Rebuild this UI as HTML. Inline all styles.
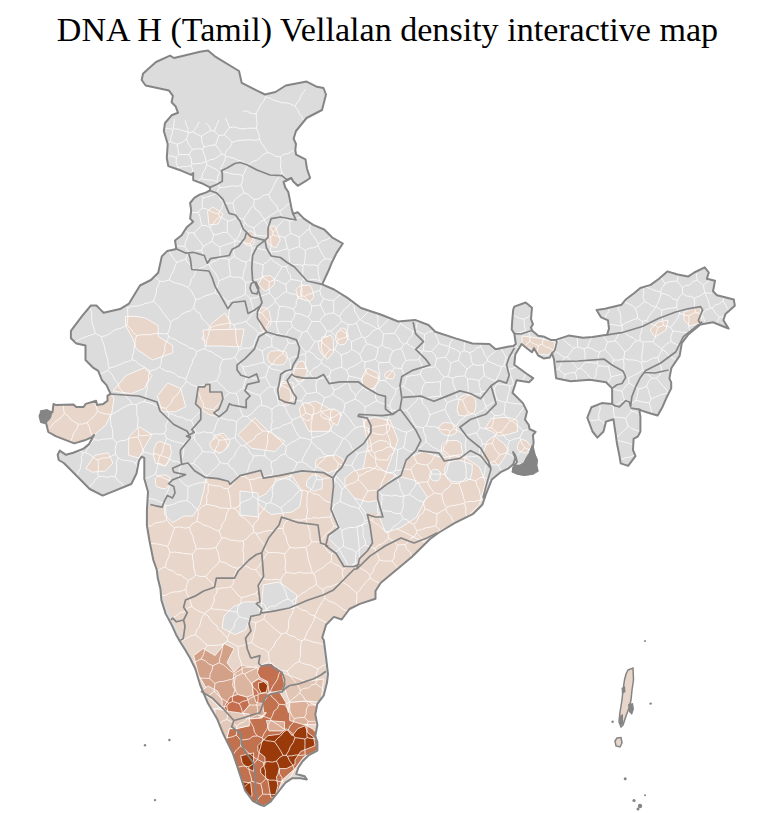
<!DOCTYPE html>
<html><head><meta charset="utf-8"><style>
html,body{margin:0;padding:0;background:#fff;width:770px;height:813px;overflow:hidden}
.t{position:absolute;left:2.5px;top:11px;width:770px;text-align:center;font-family:"Liberation Serif",serif;font-size:34.1px;color:#000;white-space:nowrap}
svg{position:absolute;left:0;top:0}
</style></head><body>
<svg width="770" height="813" viewBox="0 0 770 813">
<defs><clipPath id="ind"><path d="M208,50.4 L215.7,56.9 L239,71 L241.7,82.9 L257,90.6 L265,94.5 L275.5,92 L285.8,85.5 L298.8,82.9 L306.6,81.6 L317,86.8 L323.5,88 L326,94.5 L322,110 L306.6,118 L296,131 L293.6,138.7 L296,144 L295.3,150 L296.1,154.7 L305.5,159.4 L307,168.7 L310.1,178 L305.5,181.2 L297.7,185.8 L293,181.2 L291.4,178 L283.6,182 L285.2,187.4 L288.3,192 L289.9,199.9 L291.4,207.7 L293,213.9 L297.7,212.3 L303.9,218.6 L313.2,224.8 L324.2,229.5 L332,237.3 L342.8,243.5 L336.6,252.9 L332,262.2 L328.8,270 L322.2,284.4 L334,289.5 L347.5,297.9 L361,308 L381.3,314.8 L398.2,321.5 L415,319.9 L428.5,325 L435.3,331.7 L455.6,338.4 L472.4,343.5 L489.4,344 L495.6,349.2 L509,346.6 L513.2,346.1 L515.8,344 L514.3,333.6 L511.7,329.5 L512.2,321.2 L513.2,309.7 L514.3,306.6 L525.7,302.5 L532,307.7 L531,319 L533,324.3 L531,327.4 L532,330.5 L538.2,335.7 L544.4,336.8 L550.6,339.9 L555.8,339.9 L568.6,335.6 L583.1,337.7 L592.5,336.9 L607,334.8 L609,328.6 L608,320.3 L600.8,317.1 L596.6,309.9 L605,308.8 L621.6,304.7 L625.7,299.5 L634,293.2 L640.3,288 L650.6,284.9 L659,278.7 L667.3,271.4 L677.7,274.5 L688,276.6 L694.3,272.5 L704.7,267.3 L708.8,272.5 L706.8,278.7 L715,280.8 L713,291.2 L717,295.3 L733.8,299.5 L734.8,305.7 L725.5,314 L723.4,320.3 L728.6,328.6 L723.4,326.5 L713,322.3 L700.5,324.4 L688,334.8 L681.8,343.1 L679.7,355.6 L671.4,368 L669.4,378.4 L671.2,382.3 L671.2,388.4 L666.2,398.3 L662.5,406.9 L657.6,415.5 L649,413 L641.6,410.6 L639.2,409.3 L640.4,416.7 L640.4,431.5 L638,436.4 L633.6,438.9 L633,450 L635.5,456.1 L628.1,465.9 L620.7,463.4 L619.5,456.1 L617,443.8 L615.8,435.2 L613.4,419.2 L606,421.6 L603.5,431.5 L597.4,437.6 L592.5,431.5 L587.3,417.7 L591.4,407.3 L601.8,403.1 L612.2,404 L612.1,388.4 L606,382.3 L590,379.8 L570.6,381.3 L556.1,378.2 L554,359.5 L552,353.2 L549.9,357.4 L543.6,358.4 L538.2,355.5 L534,348.2 L532,352.3 L526.8,348.2 L521.6,344 L515.3,354.4 L514.3,364.8 L527,374 L533.2,378.2 L529,382.3 L516.6,380.3 L512.5,392.7 L522.9,403.1 L527,411.4 L525,419.7 L528.8,425 L529.5,429 L535.6,431.8 L532.9,435.1 L533.6,442 L532.9,447.3 L534.9,455.4 L537,460.2 L536.3,465.6 L537.6,471 L532.9,473.7 L524.1,475 L517.3,473.7 L512.6,471.7 L513.3,467.6 L517,462 L515.5,456 L513,452 L515.3,458 L513.3,464.2 L508.5,468.3 L501.2,471.8 L491.8,479.6 L485.6,495.2 L482.5,504.5 L473.2,513.8 L454.5,523.2 L439,532.5 L430,539 L411.8,557 L396.2,570 L380.6,583 L375.5,591 L375.5,598.7 L359.9,603.9 L349.5,609 L341.7,619.5 L333.9,616.9 L326.1,624.7 L322.2,637.7 L323.8,640 L326,657 L328,674 L327,682.6 L323.8,695.3 L317.4,703.8 L315.3,714.5 L317.4,725 L315.3,735.7 L317.4,742 L317.4,750.6 L309,755 L302.6,761.3 L298.3,767.7 L296.2,774 L304.7,776.2 L306.8,779.4 L300.4,778.3 L291.9,778.3 L285.5,782.6 L279,791 L270.6,801.7 L264.3,806 L260.7,805 L253,801.2 L245,790.3 L239,771.6 L232.7,753 L223.4,734.3 L217,718.7 L207.8,703 L200,684.5 L195.4,669 L190,658 L185.3,650 L180.1,641.7 L176,634.4 L171.8,625.1 L165.6,613.6 L161.4,600.1 L160.4,588.7 L157.8,578.3 L156.8,570 L153.3,560 L149.5,541 L146.9,525.5 L146.9,510 L148,491.7 L144.3,478.7 L144.3,458 L141.7,456.6 L139,460.5 L136.5,473.5 L131.3,484 L115.7,490.4 L102.7,495.6 L89.7,489 L76.8,476 L63.8,463 L58.7,460 L57.7,454.8 L59.7,450.6 L66,454.8 L73.2,452.7 L83.6,448.6 L88.8,444.4 L94,435 L92,437.1 L84.7,440.3 L74.3,443.4 L55.6,436.1 L48.3,432 L46.2,423.6 L41,422 L39.5,416 L42,411 L46.2,411.2 L52.5,412.2 L53.5,403.9 L55.6,404.9 L73.2,404.4 L76.4,407 L83.6,407 L85.7,403.9 L96.1,400.8 L97.1,404.9 L103.4,403.9 L107.5,400.8 L107.5,395.6 L110.6,394 L106.5,385.2 L101.8,380 L98.2,370.9 L92.7,367.3 L85.5,360 L85.5,345.5 L76.4,343.6 L70.9,338.2 L70.9,330.9 L81.8,316.4 L90.9,305.5 L96.4,305.5 L100,309.1 L103.6,312.7 L120,309.1 L129,303.6 L134.5,294.5 L140,285.5 L150.9,280 L158.2,272.7 L161.8,256.4 L167.3,250.9 L176.4,249.1 L175,240.5 L181.6,235.3 L187,226.9 L193.2,221.7 L190.1,218.6 L191.2,210.3 L190.1,203 L194.3,197.8 L199.5,194.7 L205.7,192.6 L209.9,190.5 L209.9,187.4 L201.6,183.2 L193.2,180.1 L193.2,172.9 L191.2,174.9 L178.7,169.7 L168.3,166.1 L166.8,158.3 L167.7,144 L163.8,131 L165,123 L171.6,115.3 L178,112.7 L175.5,106.2 L171.6,102.3 L172.9,95.8 L169,90.6 L145.6,85.5 L141.7,80 L143,73.8 L147,70 L156,62 L170,55.6 L174,58 L189.7,54.3 L200,51.7Z"/></clipPath></defs>
<path d="M208,50.4 L215.7,56.9 L239,71 L241.7,82.9 L257,90.6 L265,94.5 L275.5,92 L285.8,85.5 L298.8,82.9 L306.6,81.6 L317,86.8 L323.5,88 L326,94.5 L322,110 L306.6,118 L296,131 L293.6,138.7 L296,144 L295.3,150 L296.1,154.7 L305.5,159.4 L307,168.7 L310.1,178 L305.5,181.2 L297.7,185.8 L293,181.2 L291.4,178 L283.6,182 L285.2,187.4 L288.3,192 L289.9,199.9 L291.4,207.7 L293,213.9 L297.7,212.3 L303.9,218.6 L313.2,224.8 L324.2,229.5 L332,237.3 L342.8,243.5 L336.6,252.9 L332,262.2 L328.8,270 L322.2,284.4 L334,289.5 L347.5,297.9 L361,308 L381.3,314.8 L398.2,321.5 L415,319.9 L428.5,325 L435.3,331.7 L455.6,338.4 L472.4,343.5 L489.4,344 L495.6,349.2 L509,346.6 L513.2,346.1 L515.8,344 L514.3,333.6 L511.7,329.5 L512.2,321.2 L513.2,309.7 L514.3,306.6 L525.7,302.5 L532,307.7 L531,319 L533,324.3 L531,327.4 L532,330.5 L538.2,335.7 L544.4,336.8 L550.6,339.9 L555.8,339.9 L568.6,335.6 L583.1,337.7 L592.5,336.9 L607,334.8 L609,328.6 L608,320.3 L600.8,317.1 L596.6,309.9 L605,308.8 L621.6,304.7 L625.7,299.5 L634,293.2 L640.3,288 L650.6,284.9 L659,278.7 L667.3,271.4 L677.7,274.5 L688,276.6 L694.3,272.5 L704.7,267.3 L708.8,272.5 L706.8,278.7 L715,280.8 L713,291.2 L717,295.3 L733.8,299.5 L734.8,305.7 L725.5,314 L723.4,320.3 L728.6,328.6 L723.4,326.5 L713,322.3 L700.5,324.4 L688,334.8 L681.8,343.1 L679.7,355.6 L671.4,368 L669.4,378.4 L671.2,382.3 L671.2,388.4 L666.2,398.3 L662.5,406.9 L657.6,415.5 L649,413 L641.6,410.6 L639.2,409.3 L640.4,416.7 L640.4,431.5 L638,436.4 L633.6,438.9 L633,450 L635.5,456.1 L628.1,465.9 L620.7,463.4 L619.5,456.1 L617,443.8 L615.8,435.2 L613.4,419.2 L606,421.6 L603.5,431.5 L597.4,437.6 L592.5,431.5 L587.3,417.7 L591.4,407.3 L601.8,403.1 L612.2,404 L612.1,388.4 L606,382.3 L590,379.8 L570.6,381.3 L556.1,378.2 L554,359.5 L552,353.2 L549.9,357.4 L543.6,358.4 L538.2,355.5 L534,348.2 L532,352.3 L526.8,348.2 L521.6,344 L515.3,354.4 L514.3,364.8 L527,374 L533.2,378.2 L529,382.3 L516.6,380.3 L512.5,392.7 L522.9,403.1 L527,411.4 L525,419.7 L528.8,425 L529.5,429 L535.6,431.8 L532.9,435.1 L533.6,442 L532.9,447.3 L534.9,455.4 L537,460.2 L536.3,465.6 L537.6,471 L532.9,473.7 L524.1,475 L517.3,473.7 L512.6,471.7 L513.3,467.6 L517,462 L515.5,456 L513,452 L515.3,458 L513.3,464.2 L508.5,468.3 L501.2,471.8 L491.8,479.6 L485.6,495.2 L482.5,504.5 L473.2,513.8 L454.5,523.2 L439,532.5 L430,539 L411.8,557 L396.2,570 L380.6,583 L375.5,591 L375.5,598.7 L359.9,603.9 L349.5,609 L341.7,619.5 L333.9,616.9 L326.1,624.7 L322.2,637.7 L323.8,640 L326,657 L328,674 L327,682.6 L323.8,695.3 L317.4,703.8 L315.3,714.5 L317.4,725 L315.3,735.7 L317.4,742 L317.4,750.6 L309,755 L302.6,761.3 L298.3,767.7 L296.2,774 L304.7,776.2 L306.8,779.4 L300.4,778.3 L291.9,778.3 L285.5,782.6 L279,791 L270.6,801.7 L264.3,806 L260.7,805 L253,801.2 L245,790.3 L239,771.6 L232.7,753 L223.4,734.3 L217,718.7 L207.8,703 L200,684.5 L195.4,669 L190,658 L185.3,650 L180.1,641.7 L176,634.4 L171.8,625.1 L165.6,613.6 L161.4,600.1 L160.4,588.7 L157.8,578.3 L156.8,570 L153.3,560 L149.5,541 L146.9,525.5 L146.9,510 L148,491.7 L144.3,478.7 L144.3,458 L141.7,456.6 L139,460.5 L136.5,473.5 L131.3,484 L115.7,490.4 L102.7,495.6 L89.7,489 L76.8,476 L63.8,463 L58.7,460 L57.7,454.8 L59.7,450.6 L66,454.8 L73.2,452.7 L83.6,448.6 L88.8,444.4 L94,435 L92,437.1 L84.7,440.3 L74.3,443.4 L55.6,436.1 L48.3,432 L46.2,423.6 L41,422 L39.5,416 L42,411 L46.2,411.2 L52.5,412.2 L53.5,403.9 L55.6,404.9 L73.2,404.4 L76.4,407 L83.6,407 L85.7,403.9 L96.1,400.8 L97.1,404.9 L103.4,403.9 L107.5,400.8 L107.5,395.6 L110.6,394 L106.5,385.2 L101.8,380 L98.2,370.9 L92.7,367.3 L85.5,360 L85.5,345.5 L76.4,343.6 L70.9,338.2 L70.9,330.9 L81.8,316.4 L90.9,305.5 L96.4,305.5 L100,309.1 L103.6,312.7 L120,309.1 L129,303.6 L134.5,294.5 L140,285.5 L150.9,280 L158.2,272.7 L161.8,256.4 L167.3,250.9 L176.4,249.1 L175,240.5 L181.6,235.3 L187,226.9 L193.2,221.7 L190.1,218.6 L191.2,210.3 L190.1,203 L194.3,197.8 L199.5,194.7 L205.7,192.6 L209.9,190.5 L209.9,187.4 L201.6,183.2 L193.2,180.1 L193.2,172.9 L191.2,174.9 L178.7,169.7 L168.3,166.1 L166.8,158.3 L167.7,144 L163.8,131 L165,123 L171.6,115.3 L178,112.7 L175.5,106.2 L171.6,102.3 L172.9,95.8 L169,90.6 L145.6,85.5 L141.7,80 L143,73.8 L147,70 L156,62 L170,55.6 L174,58 L189.7,54.3 L200,51.7Z" fill="#dcdcdc"/>
<g clip-path="url(#ind)"><path d="M150.4,504.5 L155.6,505.8 L162.1,507.1 L164.7,500.6 L167.3,495.5 L172.5,498 L175,492.9 L173.8,486.4 L168.6,483.8 L172.5,479.9 L185.5,474.7 L179,473.4 L173.8,472.1 L172.5,468.2 L181.6,464.3 L188,463 L194.5,470.8 L205,477.3 L218,478.6 L228.3,481.2 L230,484.3 L244.3,474.3 L255.7,470 L264.3,477 L278.6,474.3 L295.7,474.3 L312.9,471.4 L330,474.3 L335.7,482.9 L332.9,494.3 L333.9,500 L331.3,515.6 L339,526 L328.7,541.6 L333.9,552 L344.3,565 L354.7,567.5 L359.9,557 L372.9,541.6 L370.3,526 L367.7,513 L380.6,513 L392,505 L402,510 L420,505 L440,500 L455,505 L470,505 L480,500 L485.6,495.2 L482.5,504.5 L473.2,513.8 L454.5,523.2 L439,532.5 L430,539 L411.8,557 L396.2,570 L380.6,583 L375.5,591 L375.5,598.7 L359.9,603.9 L349.5,609 L341.7,619.5 L333.9,616.9 L326.1,624.7 L322.2,637.7 L323.5,655.8 L326.1,671.4 L327.4,687 L323,697 L316.7,709.4 L315.2,728 L318.3,734.3 L316.7,749.9 L310.5,759 L301.2,771.6 L295,774.7 L285.6,781 L276.3,790.3 L268.5,799.6 L260.7,804.3 L253,801.2 L245,790.3 L239,771.6 L232.7,753 L223.4,734.3 L217,718.7 L207.8,703 L200,684.5 L195.4,669 L189,653.4 L179.8,634.7 L172,619 L164.2,600.5 L159.6,575.6 L153.3,560 L149.5,541 L146.9,525.5 L146.9,510Z" fill="#e8d6cb"/><path d="M53.5,403.9 L55.6,404.9 L73.2,404.4 L76.4,407 L83.6,407 L85.7,403.9 L96.1,400.8 L97.1,404.9 L103.4,403.9 L107.5,400.8 L107.5,395.6 L110.6,394 L114,398 L112,412 L106,425 L94,435 L92,437.1 L84.7,440.3 L74.3,443.4 L55.6,436.1 L48.3,432 L46.2,423.6 L41,422 L39.5,416 L42,411 L46.2,411.2 L52.5,412.2Z" fill="#e8d6cb" stroke="#fff" stroke-width="0.9" stroke-opacity="0.85"/><path d="M125.5,316.4 L136.4,316.4 L145.5,318.2 L158.2,325.5 L158.2,336.4 L172.7,345.5 L172.7,352.7 L152.7,360 L147.3,356.4 L136.4,349.1 L132.7,338.2 L125.5,325.5Z" fill="#e8d6cb" stroke="#fff" stroke-width="0.9" stroke-opacity="0.85"/><path d="M113,391 L126,375.5 L144.3,367.7 L152,375.5 L144.3,388.4 L131.3,393.6Z" fill="#e8d6cb" stroke="#fff" stroke-width="0.9" stroke-opacity="0.85"/><path d="M201.4,339 L211.8,323.5 L224.8,313 L230,321 L230,344.3 L211.8,344.3Z" fill="#e8d6cb" stroke="#fff" stroke-width="0.9" stroke-opacity="0.85"/><path d="M157.3,396 L167.7,383 L180.6,388.4 L185.8,406.6 L175.5,411.8 L162.5,411.8Z" fill="#e8d6cb" stroke="#fff" stroke-width="0.9" stroke-opacity="0.85"/><path d="M198.2,386.9 L204.7,386.9 L206,384.3 L209.9,384.3 L209.9,392 L221.6,392 L222.9,398.6 L219,409 L213.8,412.9 L219,416.8 L210,415 L200.8,409 L195.6,403.8 L196.9,396Z" fill="#e8d6cb" stroke="#fff" stroke-width="0.9" stroke-opacity="0.85"/><path d="M85.8,468.3 L95,455.3 L108,452.7 L113,463 L105.3,471 L92.3,472.2Z" fill="#e8d6cb" stroke="#fff" stroke-width="0.9" stroke-opacity="0.85"/><path d="M128.7,437 L139,426.8 L152,434.5 L144.3,447.5 L139,458 L128.7,455.3Z" fill="#e8d6cb" stroke="#fff" stroke-width="0.9" stroke-opacity="0.85"/><path d="M170.5,455.2 L168.8,461.3 L165.6,466.2 L161.4,465.3 L157.8,463.5 L154.8,458.9 L154.3,454.0 L156.7,448.2 L161.4,446.4 L165.6,447.8 L169.7,451.3Z" fill="#e8d6cb" stroke="#fff" stroke-width="0.9" stroke-opacity="0.85"/><path d="M169.2,481.7 L168.8,485.3 L165.5,488.9 L161.2,488.2 L156.7,486.7 L155.4,483.6 L155.3,478.6 L157.2,476.5 L162.3,474.9 L165.9,475.1 L170.4,477.8Z" fill="#e8d6cb" stroke="#fff" stroke-width="0.9" stroke-opacity="0.85"/><path d="M230.0,441.7 L227.7,447.3 L224.7,449.9 L218.8,453.4 L216.0,449.0 L213.5,445.7 L212.7,440.4 L214.3,435.5 L219.7,433.7 L223.8,433.4 L227.9,438.5Z" fill="#e8d6cb" stroke="#fff" stroke-width="0.9" stroke-opacity="0.85"/><path d="M287.5,357.1 L286.6,360.5 L283.6,364.4 L277.1,365.2 L270.2,363.1 L267.9,359.5 L267.8,354.1 L271.4,351.1 L276.7,350.7 L283.0,351.0 L286.3,352.3Z" fill="#e8d6cb" stroke="#fff" stroke-width="0.9" stroke-opacity="0.85"/><path d="M281,381 L293,383 L295.3,402 L286,404 L279,395Z" fill="#e8d6cb" stroke="#fff" stroke-width="0.9" stroke-opacity="0.85"/><path d="M304.9,369.7 L303.9,374.6 L301.9,377.2 L299.7,377.8 L297.4,374.4 L295.5,372.2 L296.4,367.8 L297.4,366.1 L299.5,363.5 L302.4,365.3 L304.1,366.6Z" fill="#e8d6cb" stroke="#fff" stroke-width="0.9" stroke-opacity="0.85"/><path d="M302,404.3 L315.6,401 L339.2,414.4 L329,431.3 L308.8,431.3 L302,417.8Z" fill="#e8d6cb" stroke="#fff" stroke-width="0.9" stroke-opacity="0.85"/><path d="M238,434.7 L254.8,417.8 L268.3,431.3 L285.2,441.4 L275,451.5 L251.4,448.2Z" fill="#e8d6cb" stroke="#fff" stroke-width="0.9" stroke-opacity="0.85"/><path d="M227.5,444.5 L226.7,447.7 L222.4,451.8 L219.2,452.7 L212.5,449.9 L209.9,445.1 L210.4,442.0 L214.3,438.8 L218.8,435.0 L221.8,436.1 L225.4,439.5Z" fill="#e8d6cb" stroke="#fff" stroke-width="0.9" stroke-opacity="0.85"/><path d="M344.2,464.1 L339.6,468.8 L334.5,470.3 L328.3,473.0 L321.4,468.9 L315.2,466.1 L316.0,460.0 L319.3,457.8 L328.9,455.9 L336.1,454.8 L343.1,459.3Z" fill="#e8d6cb" stroke="#fff" stroke-width="0.9" stroke-opacity="0.85"/><path d="M362.8,417.8 L390,420 L398,440 L385,475 L362.8,470 L368,445Z" fill="#e8d6cb" stroke="#fff" stroke-width="0.9" stroke-opacity="0.85"/><path d="M171.4,453.4 L168.6,460.7 L164.7,466.1 L160.3,463.5 L155.7,463.4 L153.7,456.4 L153.8,449.4 L156.5,443.1 L160.0,441.3 L166.2,443.8 L170.2,445.0Z" fill="#e8d6cb" stroke="#fff" stroke-width="0.9" stroke-opacity="0.85"/><path d="M207.5,211 L213,207 L223,214 L218,224 L209,225Z" fill="#e8d6cb" stroke="#fff" stroke-width="0.9" stroke-opacity="0.85"/><path d="M254.4,237.5 L254.1,243.1 L250.8,246.0 L248.0,245.3 L245.5,244.6 L243.7,241.0 L244.4,235.9 L246.4,233.2 L249.0,230.7 L251.0,230.9 L253.8,233.2Z" fill="#e8d6cb" stroke="#fff" stroke-width="0.9" stroke-opacity="0.85"/><path d="M267.3,226 L275,226 L280.3,240 L276,248 L268,244Z" fill="#e8d6cb" stroke="#fff" stroke-width="0.9" stroke-opacity="0.85"/><path d="M274.6,283.1 L273.2,285.6 L269.6,288.7 L264.9,291.2 L261.4,287.4 L258.3,284.5 L260.4,280.6 L262.1,276.1 L266.5,276.0 L270.3,275.6 L274.0,278.6Z" fill="#e8d6cb" stroke="#fff" stroke-width="0.9" stroke-opacity="0.85"/><path d="M310.3,292.3 L311.0,296.4 L306.2,300.5 L302.0,298.9 L298.1,298.1 L297.4,294.8 L295.8,289.7 L298.3,287.2 L302.2,284.8 L305.9,285.6 L310.2,287.0Z" fill="#e8d6cb" stroke="#fff" stroke-width="0.9" stroke-opacity="0.85"/><path d="M203,330 L244,329 L241,347 L222,346 L205,346Z" fill="#e8d6cb" stroke="#fff" stroke-width="0.9" stroke-opacity="0.85"/><path d="M271.1,319.6 L270.3,325.2 L267.3,328.7 L263.9,333.3 L260.7,327.4 L259.5,322.7 L258.8,314.3 L260.7,308.1 L263.5,307.7 L266.4,308.0 L268.9,310.4Z" fill="#e8d6cb" stroke="#fff" stroke-width="0.9" stroke-opacity="0.85"/><path d="M332.1,346.7 L330.4,353.1 L329.2,357.1 L324.2,356.6 L321.5,354.0 L319.0,348.9 L318.3,342.1 L321.7,339.8 L324.7,335.9 L329.4,336.9 L331.6,341.5Z" fill="#e8d6cb" stroke="#fff" stroke-width="0.9" stroke-opacity="0.85"/><path d="M313.3,293.6 L313.9,297.5 L310.2,301.2 L306.1,300.3 L302.2,299.1 L301.2,295.9 L300.4,291.7 L302.1,285.6 L306.1,285.2 L309.9,284.9 L312.1,289.3Z" fill="#e8d6cb" stroke="#fff" stroke-width="0.9" stroke-opacity="0.85"/><path d="M348.2,335.1 L347.9,338.5 L344.6,342.1 L341.7,341.4 L338.8,340.7 L337.4,337.4 L337.0,333.1 L338.6,330.9 L341.5,327.9 L344.8,328.5 L347.0,332.5Z" fill="#e8d6cb" stroke="#fff" stroke-width="0.9" stroke-opacity="0.85"/><path d="M333.5,345.8 L333.6,352.0 L330.0,356.4 L327.2,359.5 L323.4,354.5 L321.2,348.4 L321.5,342.9 L322.1,336.9 L326.3,337.3 L330.6,334.9 L333.1,338.7Z" fill="#e8d6cb" stroke="#fff" stroke-width="0.9" stroke-opacity="0.85"/><path d="M378.7,380.3 L375.8,385.1 L372.8,389.3 L367.2,390.5 L363.0,386.9 L361.9,381.8 L362.6,375.8 L364.1,373.1 L367.6,368.0 L372.6,370.4 L377.7,372.9Z" fill="#e8d6cb" stroke="#fff" stroke-width="0.9" stroke-opacity="0.85"/><path d="M395.0,375.2 L394.1,376.8 L392.8,378.8 L389.5,378.8 L386.2,378.1 L384.8,376.7 L385.1,373.0 L387.0,371.9 L389.7,370.4 L392.3,370.9 L393.6,372.2Z" fill="#e8d6cb" stroke="#fff" stroke-width="0.9" stroke-opacity="0.85"/><path d="M307.5,371.0 L305.8,375.8 L303.5,379.6 L299.2,381.6 L295.1,379.0 L293.2,374.3 L294.3,370.6 L296.4,365.0 L299.4,361.5 L303.2,361.1 L306.3,366.3Z" fill="#e8d6cb" stroke="#fff" stroke-width="0.9" stroke-opacity="0.85"/><path d="M292.7,393.2 L292.5,400.1 L289.1,404.5 L285.7,406.1 L282.2,403.7 L279.6,397.0 L278.8,390.9 L281.7,383.8 L286.4,383.2 L289.0,383.0 L291.8,388.6Z" fill="#e8d6cb" stroke="#fff" stroke-width="0.9" stroke-opacity="0.85"/><path d="M313.8,410.9 L312.5,416.7 L310.9,419.7 L306.6,420.8 L301.4,417.1 L300.4,414.9 L299.5,408.9 L302.3,404.1 L304.9,402.8 L309.8,404.1 L313.6,406.9Z" fill="#e8d6cb" stroke="#fff" stroke-width="0.9" stroke-opacity="0.85"/><path d="M342.1,415.2 L339.3,416.7 L334.9,419.5 L330.2,420.1 L322.9,417.8 L320.4,415.3 L321.5,413.7 L322.9,411.0 L327.9,409.9 L334.0,408.8 L337.4,411.5Z" fill="#e8d6cb" stroke="#fff" stroke-width="0.9" stroke-opacity="0.85"/><path d="M476.2,405.7 L474.3,412.9 L470.8,414.4 L465.4,416.1 L458.9,415.4 L457.0,409.8 L458.8,401.0 L460.5,397.0 L465.2,394.6 L470.1,393.0 L475.2,399.2Z" fill="#e8d6cb" stroke="#fff" stroke-width="0.9" stroke-opacity="0.85"/><path d="M457.1,427.9 L456.1,432.9 L451.6,435.3 L446.7,435.5 L442.2,433.4 L439.3,430.6 L438.4,427.0 L443.2,422.9 L446.4,422.6 L451.8,423.2 L455.1,425.3Z" fill="#e8d6cb" stroke="#fff" stroke-width="0.9" stroke-opacity="0.85"/><path d="M461.7,449.6 L462.7,454.0 L454.9,457.5 L449.0,459.8 L445.2,454.8 L441.1,452.5 L441.7,445.5 L446.1,441.2 L451.1,440.5 L457.0,440.5 L460.9,442.9Z" fill="#e8d6cb" stroke="#fff" stroke-width="0.9" stroke-opacity="0.85"/><path d="M517.2,425.3 L517.7,431.5 L508.6,434.3 L499.0,436.1 L491.4,431.2 L485.0,428.8 L487.8,424.0 L491.0,418.8 L500.6,417.5 L508.5,417.4 L517.2,420.4Z" fill="#e8d6cb" stroke="#fff" stroke-width="0.9" stroke-opacity="0.85"/><path d="M508.6,450.2 L504.5,457.3 L499.3,465.0 L493.5,464.9 L488.6,462.8 L481.6,456.8 L484.2,450.1 L487.5,440.9 L494.8,435.6 L499.0,440.1 L503.7,443.4Z" fill="#e8d6cb" stroke="#fff" stroke-width="0.9" stroke-opacity="0.85"/><path d="M530.9,446.9 L529.2,449.2 L526.8,453.2 L522.8,452.4 L519.3,451.3 L517.5,448.6 L517.3,445.6 L519.6,441.5 L521.3,439.0 L526.7,441.1 L528.0,443.0Z" fill="#e8d6cb" stroke="#fff" stroke-width="0.9" stroke-opacity="0.85"/><path d="M389.9,426.0 L389.3,430.4 L383.4,434.9 L376.8,434.1 L368.9,431.6 L364.9,429.6 L364.2,422.2 L368.6,419.0 L374.4,417.2 L381.4,418.5 L386.8,420.3Z" fill="#e8d6cb" stroke="#fff" stroke-width="0.9" stroke-opacity="0.85"/><path d="M394.4,451.9 L389.2,456.4 L387.5,460.1 L379.3,459.8 L375.0,458.3 L369.7,453.7 L367.5,448.0 L374.6,442.7 L380.3,440.3 L386.5,441.5 L390.1,444.6Z" fill="#e8d6cb" stroke="#fff" stroke-width="0.9" stroke-opacity="0.85"/><path d="M399.6,483.6 L397.1,495.3 L385.6,498.9 L368.6,502.0 L351.4,497.3 L345.0,487.0 L345.0,478.0 L353.9,470.8 L369.0,467.4 L380.3,469.8 L393.5,474.2Z" fill="#e8d6cb" stroke="#fff" stroke-width="0.9" stroke-opacity="0.85"/><path d="M445.9,476.4 L442.7,489.8 L434.2,502.3 L426.1,503.8 L415.8,496.8 L405.1,483.1 L409.8,474.1 L414.4,461.2 L425.5,456.0 L431.1,458.9 L441.7,465.8Z" fill="#e8d6cb" stroke="#fff" stroke-width="0.9" stroke-opacity="0.85"/><path d="M407.8,457.8 L423.4,451.6 L442,457.8 L460.7,454.7 L479.4,467 L485.6,482.7 L479.4,504.5 L467,517 L442,529.4 L423.4,541.8 L411,535.6 L392.2,526.3 L404.7,504.5 L398.5,482.7Z" fill="#e8d6cb" stroke="#fff" stroke-width="0.9" stroke-opacity="0.85"/><path d="M522,336 L538,338 L555,342 L554,350 L548,355 L538,354 L530,348 L522,346Z" fill="#e8d6cb" stroke="#fff" stroke-width="0.9" stroke-opacity="0.85"/><path d="M347.6,337.6 L347.3,340.3 L344.7,344.2 L340.6,345.0 L337.1,343.0 L335.5,338.7 L335.8,336.3 L336.6,332.9 L340.6,329.8 L344.6,332.7 L347.3,333.2Z" fill="#e8d6cb" stroke="#fff" stroke-width="0.9" stroke-opacity="0.85"/><path d="M650,330 L658,322 L668,320 L666,330 L655,337Z" fill="#e8d6cb" stroke="#fff" stroke-width="0.9" stroke-opacity="0.85"/><path d="M684,312 L700,306 L702,322 L690,326 L684,320Z" fill="#e8d6cb" stroke="#fff" stroke-width="0.9" stroke-opacity="0.85"/><path d="M340.4,416.9 L339.0,421.4 L337.5,425.6 L335.1,424.0 L332.2,422.9 L330.7,418.6 L330.4,414.5 L330.8,411.0 L334.2,409.4 L337.6,410.8 L340.2,412.5Z" fill="#e8d6cb" stroke="#fff" stroke-width="0.9" stroke-opacity="0.85"/><path d="M182,464 L188,463 L194.5,470.8 L206,477.5 L204,490 L200,505 L193,516 L184,516 L172.5,522.7 L164.7,515 L164.7,500.6 L167.3,495.5 L172.5,498 L175,492.9 L173.8,486.4 L168.6,483.8 L172.5,479.9 L185.5,474.7 L179,473.4 L173.8,472.1 L172.5,468.2Z" fill="#dcdcdc" stroke="#fff" stroke-width="0.9" stroke-opacity="0.85"/><path d="M276.4,480.8 L292,475.6 L302.3,491.2 L299.7,506.8 L292,512 L271.2,514.5 L260.8,506.8 L255.6,499 L266,493.8Z" fill="#dcdcdc" stroke="#fff" stroke-width="0.9" stroke-opacity="0.85"/><path d="M240,491 L258,493 L258.2,517 L240,515Z" fill="#dcdcdc" stroke="#fff" stroke-width="0.9" stroke-opacity="0.85"/><path d="M322.3,483.8 L322.0,488.8 L318.8,489.5 L313.5,491.4 L311.4,489.3 L306.3,486.2 L306.9,480.9 L310.4,476.6 L313.6,474.6 L318.8,475.9 L322.0,477.8Z" fill="#dcdcdc" stroke="#fff" stroke-width="0.9" stroke-opacity="0.85"/><path d="M336,475.6 L349,491.2 L364.7,512 L369,522 L357,527 L359,545 L359.5,561.3 L349,566.5 L338.7,548.3 L328.3,538 L338.7,525 L331,506.8 L333.5,486Z" fill="#dcdcdc" stroke="#fff" stroke-width="0.9" stroke-opacity="0.85"/><path d="M377.7,491.2 L395.8,475.6 L416.6,480.8 L427,496.4 L416.6,517 L401,527.5 L385.5,532.7 L377.7,512Z" fill="#dcdcdc" stroke="#fff" stroke-width="0.9" stroke-opacity="0.85"/><path d="M263.4,584.7 L279,582 L297.1,595 L294.5,608 L276.4,610.6 L260.8,610.6Z" fill="#dcdcdc" stroke="#fff" stroke-width="0.9" stroke-opacity="0.85"/><path d="M232.7,607 L245,601.8 L258,602 L260,614 L250,618 L245.5,630 L235,634.5 L222,628 L224,616Z" fill="#dcdcdc" stroke="#fff" stroke-width="0.9" stroke-opacity="0.85"/><path d="M472.0,472.5 L470.1,479.2 L463.9,481.4 L456.7,482.0 L451.5,481.0 L444.7,475.0 L444.8,467.6 L448.1,462.6 L457.5,459.7 L464.1,461.7 L472.3,464.5Z" fill="#dcdcdc" stroke="#fff" stroke-width="0.9" stroke-opacity="0.85"/><path d="M440.1,476.1 L440.0,478.4 L438.0,480.7 L434.1,481.0 L431.6,479.7 L429.9,476.2 L429.7,474.0 L431.3,471.7 L433.3,469.1 L438.0,469.8 L440.4,472.4Z" fill="#dcdcdc" stroke="#fff" stroke-width="0.9" stroke-opacity="0.85"/><path d="M193.7,655.6 L203.2,648.5 L215.1,655.6 L224.6,643.7 L234.1,648.5 L227,662.7 L234.1,672.2 L241.2,665.1 L253.1,667.5 L260.2,665.1 L272,667.5 L281.6,674.6 L286.3,684.1 L281.6,693.6 L272,700.7 L265,710.2 L253.1,715 L241.2,719.7 L231.7,717.3 L222.2,710.2 L212.7,700.7 L208,691.2 L198.5,674.6Z" fill="#d3a088" stroke="#fff" stroke-width="0.9" stroke-opacity="0.85"/><path d="M200.9,691.2 L208,686 L217.5,691 L222,700 L222.2,710.2 L212.7,700.7Z" fill="#dfc2b2" stroke="#fff" stroke-width="0.9" stroke-opacity="0.85"/><path d="M233.9,673.8 L244.3,667.3 L257.3,667.3 L259.9,677.7 L252,682.9 L253.4,694.5 L246.9,697.1 L237.8,694.5 L232.6,685.5Z" fill="#dcb5a0" stroke="#fff" stroke-width="0.9" stroke-opacity="0.85"/><path d="M259.9,664.7 L271.6,663.4 L282,671.2 L285.8,681.6 L282,690.6 L272.9,692 L267.7,692 L267.7,681.6 L259.9,677.7 L257.3,672.5Z" fill="#c27050" stroke="#fff" stroke-width="0.9" stroke-opacity="0.85"/><path d="M252,682.9 L258.6,679 L267.7,682.9 L269,692 L266.4,698.4 L262.5,703.6 L256,702.3 L253.4,694.5Z" fill="#c67857" stroke="#fff" stroke-width="0.9" stroke-opacity="0.85"/><path d="M230,697.1 L237.8,694.5 L246.9,697.1 L249.5,705 L243,712.7 L233.9,718 L228,716 L224,707Z" fill="#c47050" stroke="#fff" stroke-width="0.9" stroke-opacity="0.85"/><path d="M243,712.7 L249.5,705 L262.5,705 L266.4,712.7 L258.6,718 L249.5,719.2Z" fill="#d8aa92" stroke="#fff" stroke-width="0.9" stroke-opacity="0.85"/><path d="M223.6,714 L249.3,714.3 L249.3,719 L262,718 L266.4,712.7 L263.8,712.7 L262.5,703.6 L266.4,698.4 L269,693.2 L279.4,692 L285.8,702.3 L288.4,712.7 L289.3,704.3 L292.1,718.6 L312.1,728.6 L317.9,734.3 L317.9,750 L303.6,757.1 L295,768.6 L282.1,780 L277.9,791.4 L272.1,801.4 L263.6,805.7 L252.1,802.9 L243.6,791.4 L235,771.4 L227.9,747.1 L226.4,740 L229.3,728.6 L236.4,728.6 L249.3,725.7Z" fill="#c2714f" stroke="#fff" stroke-width="0.9" stroke-opacity="0.85"/><path d="M215,708.6 L229.3,711.4 L249.3,714.3 L249.3,725.7 L236.4,728.6 L229.3,728.6 L226.4,740 L221,735 L215,720Z" fill="#e2c8b8" stroke="#fff" stroke-width="0.9" stroke-opacity="0.85"/><path d="M266.4,720.5 L284.5,721.8 L284.5,730.9 L269,730.9Z" fill="#dcae98" stroke="#fff" stroke-width="0.9" stroke-opacity="0.85"/><path d="M289.7,702.3 L306.6,701 L319.6,707.5 L315.7,724.4 L302.7,724.4 L289.7,720.5Z" fill="#ddb09a" stroke="#fff" stroke-width="0.9" stroke-opacity="0.85"/><path d="M282,672.5 L305.3,681.6 L323.5,679 L320.9,702.3 L306.6,701 L289.7,702.3 L285.8,692Z" fill="#e2c6b5" stroke="#fff" stroke-width="0.9" stroke-opacity="0.85"/><path d="M258.6,682.9 L263.8,681.6 L267.7,685.5 L266.4,692 L261.2,693.2 L258.6,688Z" fill="#9a3a0a" stroke="#fff" stroke-width="0.9" stroke-opacity="0.85"/><path d="M257.9,745.7 L267.9,735.7 L279.3,734.3 L286.4,728.6 L292.1,735.7 L297.9,728.6 L305,725.7 L307.9,732.9 L313.6,737.1 L315,745.7 L307.9,748.6 L300.7,751.4 L295,760 L295,764.3 L286.4,768.6 L279.3,768.6 L277.9,774.3 L276.4,777.1 L277.9,785.7 L275,797.1 L270.7,797.1 L269.3,788.6 L267.9,780 L260.7,772.9 L260.7,768.6 L265,764.3 L265,757.1 L257.9,751.4Z" fill="#9a3a0a" stroke="#fff" stroke-width="0.9" stroke-opacity="0.85"/><path d="M240.7,755.7 L253.6,752.9 L253.6,771.4 L247.9,768.6 L242.1,762.9Z" fill="#9a3a0a" stroke="#fff" stroke-width="0.9" stroke-opacity="0.85"/><path d="M239.3,781.4 L250.7,782.9 L252.1,795.7 L247.9,797.1 L243.6,788.6Z" fill="#9a3a0a" stroke="#fff" stroke-width="0.9" stroke-opacity="0.85"/></g><path d="M305.5,89.2 L303.3,92.5 L300.9,95.8 L299.5,99.7 L297.0,102.8 L294.9,106.3 M265.5,96.3 L265.6,96.8 M294.9,106.3 L291.0,104.2 L286.8,102.8 L282.1,102.9 L278.0,101.4 L273.7,100.3 L269.7,98.2 L265.6,96.8 M256.2,802.8 L258.7,797.9 L262.7,794.2 M262.7,794.2 L267.2,794.2 L271.7,794.7 L276.2,794.5 M244.1,787.3 L247.6,783.9 L251.8,781.2 M262.7,794.2 L262.1,788.9 L260.8,783.8 M251.8,781.2 L256.2,782.7 L260.8,783.8 M237.5,767.3 L243.1,766.0 L248.7,766.7 M251.8,781.2 L250.9,776.3 L249.3,771.6 L248.7,766.7 M164.3,128.0 L168.5,128.5 L172.6,129.4 M172.6,129.4 L172.3,133.6 L170.8,137.6 L170.4,141.8 M167.4,142.9 L170.4,141.8 M47.8,430.0 L51.0,426.6 L53.9,422.9 L57.7,420.1 L61.4,417.2 L64.3,413.4 M64.3,413.4 L63.6,409.1 L63.6,404.7 M125.4,305.8 L127.6,308.1 M89.8,306.8 L91.3,311.2 L91.9,315.7 L91.7,320.3 L92.6,324.8 L94.1,329.1 L95.3,333.5 M95.3,333.5 L101.5,336.6 M101.5,336.6 L105.5,335.7 L109.1,334.0 L112.4,331.5 L115.8,329.3 L119.9,328.7 L123.5,326.9 L127.1,325.2 M127.6,308.1 L127.7,312.4 L127.9,316.7 L127.4,320.9 L127.1,325.2 M74.5,341.8 L78.7,340.0 L82.7,338.0 L86.9,336.4 L91.2,335.0 L95.3,333.5 M99.4,373.9 L103.9,372.7 L107.8,370.3 M101.5,336.6 L102.3,340.6 L103.9,344.4 L104.8,348.4 L105.4,352.4 L106.9,356.2 L107.8,360.2 L108.2,364.3 L109.2,368.2 M107.8,370.3 L109.2,368.2 M166.9,156.0 L171.8,156.0 L176.4,157.6 M170.4,141.8 L177.1,144.2 M177.1,144.2 L178.0,149.4 L178.8,154.5 M176.4,157.6 L178.8,154.5 M127.1,325.2 L130.5,328.5 L133.2,332.4 L136.8,335.6 M109.2,368.2 L113.1,367.2 L116.9,365.7 L120.7,364.3 L124.3,362.3 L128.4,361.4 L132.1,359.7 M132.1,359.7 L132.5,355.6 L133.8,351.7 L134.1,347.6 L135.1,343.6 L135.1,339.4 L136.8,335.6 M233.2,754.4 L236.5,749.9 L240.6,746.2 M248.7,766.7 L253.7,763.8 L257.5,759.5 M240.6,746.2 L244.3,748.4 L247.1,751.8 L250.5,754.4 L253.8,757.2 L257.5,759.5 M174.5,119.1 L173.9,124.0 L173.3,128.9 M185.2,120.2 L186.0,124.3 L187.9,128.2 L188.0,132.4 M173.3,128.9 L178.4,129.2 L183.3,130.7 L188.0,132.4 M172.6,129.4 L173.3,128.9 M93.0,401.7 L96.0,406.2 L97.7,411.2 M107.8,370.3 L110.9,373.2 L113.3,376.6 L115.0,380.5 L118.0,383.4 L119.2,387.7 L122.0,390.8 L124.7,394.0 L126.8,397.5 L130.0,400.4 L132.0,404.1 M132.0,404.1 L127.4,405.4 L123.2,407.7 L119.1,410.1 L115.0,412.6 L110.8,414.7 M97.7,411.2 L101.9,413.1 L106.3,414.0 L110.8,414.7 M228.7,703.2 L226.8,706.1 M214.0,691.3 L217.5,694.5 L220.8,697.9 L224.9,700.4 L228.7,703.2 M214.0,691.3 L210.0,694.8 L205.6,697.9 M226.8,706.1 L221.7,707.1 L216.7,708.8 L211.5,709.3 M215.0,683.5 L218.9,681.7 L223.4,681.4 L227.5,680.2 L231.8,679.3 L235.6,677.1 M214.0,691.3 L215.0,683.5 M228.7,703.2 L232.6,701.4 M235.6,677.1 L234.4,681.1 L234.6,685.2 L235.0,689.3 L233.7,693.3 L232.3,697.2 L232.6,701.4 M668.7,393.2 L666.1,389.1 L662.6,385.7 L659.4,381.9 L656.4,378.1 M671.1,369.7 L666.6,371.2 L662.0,371.6 M662.0,371.6 L659.7,375.2 L656.4,378.1 M280.4,156.9 L283.7,154.2 L288.2,153.7 L291.8,151.4 L295.4,149.2 M294.9,106.3 L297.7,109.7 L299.4,113.8 L302.3,117.3 L303.7,121.6 M265.6,96.8 L263.7,101.3 L260.5,105.0 L258.3,109.4 L256.2,113.7 M267.8,152.4 L265.0,148.1 L261.9,143.9 L259.5,139.4 M267.8,152.4 L271.9,154.2 L275.9,156.3 L280.4,156.9 M256.2,113.7 L256.4,118.6 L257.2,123.4 L256.3,128.3 M256.3,128.3 L258.8,133.6 L259.5,139.4 M256.2,113.7 L251.6,113.7 L247.4,111.2 L242.7,111.2 M178.8,154.5 L183.9,154.6 L189.0,154.5 M177.1,144.2 L182.1,142.3 L186.5,139.1 M189.0,154.5 L192.4,149.4 M192.4,149.4 L188.9,144.6 L186.5,139.1 M188.0,132.4 L188.5,132.8 M186.5,139.1 L188.5,132.8 M199.2,121.8 L196.5,127.1 L192.9,131.9 M188.5,132.8 L192.9,131.9 M209.7,678.5 L203.9,678.1 L198.2,678.5 M215.0,683.5 L209.7,678.5 M88.1,487.4 L92.1,484.5 L94.8,480.2 L98.5,477.0 M98.5,477.0 L102.6,476.0 L106.8,477.5 L111.0,476.3 L115.2,476.7 M124.2,486.9 L121.6,483.2 L117.7,480.5 L115.2,476.7 M167.6,546.3 L163.3,545.2 L158.9,544.2 L154.5,543.7 L150.0,543.5 M169.9,552.3 L168.7,557.2 L166.4,561.9 L165.4,566.9 M169.9,552.3 L167.6,546.3 M157.0,571.4 L160.8,568.5 L165.4,566.9 M97.9,460.2 L98.4,464.4 L98.4,468.6 L97.6,472.8 L98.5,477.0 M97.9,460.2 L102.1,458.0 L107.0,457.9 L111.3,456.3 L115.5,454.2 M115.5,454.2 L118.0,457.9 M118.0,457.9 L116.3,462.4 L116.8,467.3 L116.4,472.0 L115.2,476.7 M94.4,439.8 L93.1,436.7 M92.9,436.2 L90.4,431.9 L89.5,426.8 L86.9,422.6 M94.4,439.8 L90.6,443.5 L88.0,448.1 L85.3,452.6 M70.4,441.9 L72.4,437.4 L73.9,432.8 L76.9,428.8 L78.2,424.1 M78.5,450.6 L83.3,452.9 M78.2,424.1 L82.7,424.1 L86.9,422.6 M83.3,452.9 L85.3,452.6 M97.7,411.2 L94.7,415.6 L90.9,419.2 L86.9,422.6 M110.8,414.7 L110.5,419.5 L110.8,424.2 L112.3,428.9 L112.7,433.6 L112.7,438.4 M112.7,438.4 L108.1,438.9 L103.5,439.0 L99.0,440.2 L94.4,439.8 M116.5,442.7 L115.3,448.4 L115.5,454.2 M97.9,460.2 L93.7,457.6 L89.8,454.6 L85.3,452.6 M112.7,438.4 L116.5,442.7 M64.3,413.4 L68.1,415.7 L70.7,419.5 L74.4,421.8 L78.2,424.1 M77.3,476.5 L78.0,472.5 L80.2,468.9 L80.7,464.8 L81.9,460.9 L81.4,456.6 L83.3,452.9 M132.1,359.7 L136.2,361.2 L139.1,364.6 L143.2,366.1 L146.6,368.7 L150.3,370.9 M136.4,404.8 L140.0,402.5 L144.1,401.6 M132.0,404.1 L136.4,404.8 M144.1,401.6 L145.9,397.4 L145.8,392.8 L147.4,388.6 L146.8,383.9 L148.5,379.7 L148.5,375.1 L150.3,370.9 M135.6,463.0 L131.4,461.0 L126.8,460.5 L122.1,460.0 L118.0,457.9 M116.5,442.7 L120.6,440.7 L125.1,440.5 L129.1,438.4 L133.4,437.4 L137.8,436.9 M135.6,463.0 L138.2,459.2 L141.0,455.5 L143.6,451.8 M143.6,451.8 L141.8,446.7 L140.0,441.7 L137.8,436.9 M136.4,404.8 L136.9,409.2 L136.7,413.6 L138.0,418.0 L138.0,422.4 L137.3,426.9 L138.8,431.3 L138.4,435.7 M137.8,436.9 L138.4,435.7 M136.8,335.6 L141.1,334.8 L145.5,334.6 L150.0,334.8 L154.3,333.5 L158.7,333.3 L163.2,333.9 L167.6,333.7 M127.6,308.1 L131.7,306.3 L136.3,306.1 L140.8,305.2 L145.0,303.6 L149.4,302.6 L153.6,301.1 M153.6,301.1 L156.6,304.4 L160.0,307.5 L162.2,311.5 L165.2,315.0 L167.7,318.7 L170.6,322.1 M170.6,322.1 L169.8,328.1 L167.6,333.7 M159.6,367.1 L155.2,369.5 L150.3,370.9 M159.6,367.1 L161.3,363.3 L161.4,359.1 L162.8,355.2 L164.9,351.6 L164.7,347.3 L165.6,343.3 L167.8,339.7 L168.5,335.7 M167.6,333.7 L168.5,335.7 M153.6,301.1 L155.0,297.1 L156.3,293.2 L156.4,288.9 L158.3,285.2 L159.7,281.3 M159.7,281.3 L154.6,276.3 M177.9,167.6 L176.1,162.7 L176.4,157.6 M177.9,167.6 L177.0,169.1 M170.6,322.1 L174.2,319.3 L178.6,317.6 L181.8,314.1 L185.9,312.1 L190.5,310.8 L193.8,307.6 M168.5,335.7 L171.6,338.4 L175.6,339.6 L178.8,342.0 L182.4,343.8 L186.1,345.4 L189.2,348.1 L193.4,348.8 L196.6,351.4 M193.8,307.6 L196.1,311.3 L200.1,313.7 L201.6,318.1 L204.7,321.2 L207.9,324.3 L210.6,327.7 M210.6,327.7 L209.1,331.8 L208.2,336.1 L206.4,340.1 L206.5,344.6 L204.5,348.6 M196.6,351.4 L200.5,350.0 L204.5,348.6 M159.6,367.1 L163.0,369.5 L166.7,371.4 L171.1,371.9 L174.8,373.7 L178.0,376.6 L182.2,377.4 L185.8,379.5 M196.6,351.4 L195.9,355.7 L193.1,359.2 L192.1,363.5 L190.0,367.3 L188.9,371.5 L187.4,375.4 L185.8,379.5 M144.1,401.6 L148.5,402.8 L152.9,403.9 L156.9,406.4 L161.3,407.3 L165.8,408.4 M165.8,408.4 L168.8,405.3 L171.6,402.1 L173.1,397.9 L176.8,395.3 L179.3,391.8 L181.3,388.0 L184.0,384.7 L186.4,381.2 M185.8,379.5 L186.4,381.2 M219.1,723.9 L222.6,721.0 L226.8,719.5 M225.3,738.1 L231.0,737.2 L236.4,735.2 M226.8,719.5 L232.2,722.2 L236.8,726.1 M236.4,735.2 L236.7,730.6 L236.8,726.1 M226.8,706.1 L227.5,710.6 L227.6,715.0 L226.8,719.5 M240.6,746.2 L240.7,740.1 M240.7,740.1 L236.4,735.2 M307.2,737.6 L311.8,738.5 L316.4,739.0 M307.2,737.6 L304.9,739.0 M304.9,739.0 L305.0,744.3 L304.8,749.6 L305.2,754.9 M307.2,756.8 L305.2,754.9 M257.4,736.0 L262.1,737.8 M262.1,737.8 L262.9,739.1 M240.7,740.1 L245.0,739.6 L249.3,739.0 L253.0,736.2 L257.4,736.0 M262.9,739.1 L261.6,743.1 L260.6,747.2 L259.4,751.2 L258.6,755.4 L257.6,759.5 M260.8,783.8 L265.9,778.7 M265.9,778.7 L265.4,774.6 L265.4,770.5 L264.0,766.6 L263.5,762.5 M263.5,762.5 L257.6,759.5 M308.2,721.3 L312.4,721.4 L316.6,721.2 M308.2,721.3 L304.5,717.5 M304.5,717.5 L306.2,713.5 L306.4,709.0 L308.6,705.1 M308.6,705.1 L312.9,704.9 L317.2,704.9 M307.2,737.6 L306.7,733.5 L307.0,729.4 L307.0,725.3 L308.2,721.3 M169.9,552.3 L174.5,552.1 L179.0,552.5 L183.5,553.4 L188.0,553.9 L192.6,554.2 M192.6,554.2 L196.1,549.1 M196.1,549.1 L195.4,544.6 L193.5,540.5 L192.9,535.9 L190.6,531.9 L189.5,527.5 M167.6,546.3 L169.8,541.8 L171.2,537.1 L173.0,532.5 L174.5,527.8 M189.5,527.5 L184.5,528.1 L179.5,526.8 L174.5,527.8 M147.1,526.6 L151.2,525.7 L154.7,523.1 L158.9,522.4 L163.2,521.8 L166.8,519.5 M174.5,527.8 L170.0,524.3 L166.8,519.5 M635.0,455.0 L630.2,457.0 L625.0,457.8 L620.1,459.9 M712.1,308.1 L710.5,308.0 M712.1,308.1 L715.2,304.9 L719.6,303.7 L723.0,300.8 M710.5,308.0 L709.2,304.1 L708.1,300.1 L706.3,296.4 L704.8,292.6 M704.8,292.6 L709.5,293.4 L714.1,292.4 M723.0,300.8 L724.0,297.1 M719.4,317.3 L715.5,312.9 L712.1,308.1 M719.4,317.3 L716.4,323.7 M705.5,323.6 L703.8,318.7 L701.8,313.9 M701.8,313.9 L705.6,310.2 L710.5,308.0 M724.7,316.4 L719.4,317.3 M729.1,310.8 L726.1,305.8 L723.0,300.8 M280.4,156.9 L281.0,161.9 L280.4,167.0 L281.8,171.9 M281.8,171.9 L284.4,176.3 L288.3,179.6 M232.3,142.1 L236.7,140.9 L241.3,140.3 L245.8,140.0 L250.3,139.7 L255.0,140.3 L259.5,139.4 M232.3,142.1 L228.4,138.5 L224.3,134.9 M256.3,128.3 L251.9,128.1 L247.4,128.2 L243.0,129.0 L238.5,128.2 L234.1,126.9 L229.7,127.8 M229.7,127.8 L226.5,131.0 L224.3,134.9 M229.7,127.8 L227.6,122.8 L225.3,117.9 M196.7,386.7 L191.3,384.5 L186.4,381.2 M203.8,407.4 L203.2,403.0 L200.8,399.2 L199.8,394.9 L197.6,391.0 L196.7,386.7 M203.8,407.4 L200.9,410.8 L197.8,414.1 L194.6,417.2 L191.3,420.3 M165.8,408.4 L168.8,413.4 M191.3,420.3 L186.5,419.9 L182.4,417.3 L177.6,416.8 L173.4,414.6 L168.8,413.4 M138.4,435.7 L142.8,435.6 L147.2,435.3 L151.5,434.2 L155.8,433.8 L160.2,434.3 L164.5,433.4 M168.8,413.4 L168.2,417.5 L167.8,421.6 L165.5,425.3 L166.3,429.6 L164.5,433.4 M160.0,455.6 L156.1,453.9 L151.7,454.1 L147.7,452.9 L143.6,451.8 M160.3,455.4 L162.8,451.4 L163.3,446.7 L165.3,442.6 L166.5,438.1 M166.5,438.1 L164.5,433.4 M164.0,503.2 L159.9,502.1 L156.1,499.9 L151.9,498.9 L147.6,498.1 M164.0,503.2 L165.4,498.8 L166.1,494.1 L168.1,489.9 L169.8,485.6 L171.2,481.1 M171.2,481.1 L167.1,479.8 L163.4,477.6 L159.2,476.5 L155.4,474.2 M155.4,474.2 L151.8,476.0 L148.1,477.6 L144.5,479.4 M165.9,505.7 L165.8,510.3 L166.0,514.9 L166.8,519.5 M165.9,505.7 L164.0,503.2 M160.0,455.6 L158.4,460.1 L157.9,464.9 L156.7,469.6 L155.4,474.2 M135.6,463.0 L137.4,469.0 M159.7,281.3 L164.6,281.3 L169.4,279.9 M193.8,307.6 L194.6,303.5 L195.8,299.7 M195.8,299.7 L193.6,295.3 L191.3,290.9 L187.8,287.3 M169.4,279.9 L173.7,282.5 L178.6,283.7 L183.4,285.1 L187.8,287.3 M196.7,386.7 L200.8,385.7 L204.9,384.6 L208.9,383.1 L212.8,381.5 L216.9,380.6 M204.5,348.6 L208.2,350.7 L212.3,352.2 L215.8,354.8 L219.6,356.7 L222.9,359.5 M216.9,380.6 L218.5,376.5 L220.2,372.4 L219.9,367.8 L220.8,363.5 L222.9,359.5 M203.8,407.4 L208.6,409.0 L213.6,409.6 M213.6,409.6 L216.6,406.1 L220.0,402.9 L222.6,398.9 L226.0,395.7 L229.7,392.8 M216.9,380.6 L219.9,383.9 L223.2,386.8 L226.0,390.3 L229.7,392.8 M672.9,331.2 L670.9,336.2 L670.8,341.6 M672.9,331.2 L677.2,331.3 L681.4,332.2 L685.7,332.3 L689.9,332.7 M670.8,341.6 L676.0,344.2 L681.2,346.7 M688.6,315.8 L695.7,312.4 M701.8,313.9 L695.7,312.4 M688.6,315.8 L689.2,320.0 L688.3,324.3 L689.3,328.5 L689.9,332.7 M672.9,331.2 L670.6,327.4 M688.6,315.8 L684.0,315.1 L679.8,313.0 M670.6,327.4 L673.2,324.0 L676.0,320.7 L678.2,317.0 L679.8,313.0 M676.3,360.6 L672.8,357.8 L668.6,355.8 L666.0,351.8 L662.0,349.5 M670.8,341.6 L665.8,344.5 L661.9,348.7 M662.0,349.5 L661.9,348.7 M662.0,371.6 L661.1,366.7 L659.2,362.1 L658.0,357.3 M662.0,349.5 L660.2,353.5 L658.0,357.3 M656.4,378.1 L651.6,378.4 M642.8,370.0 L645.4,373.1 L649.2,375.0 L651.6,378.4 M641.7,362.6 L642.3,361.8 M642.8,370.0 L641.7,362.6 M658.0,357.3 L653.9,357.9 L650.1,359.6 L646.4,361.5 L642.3,361.8 M294.4,769.6 L292.6,764.8 L289.5,760.7 L287.4,756.1 M294.4,769.6 L292.3,774.2 L289.4,778.3 L286.2,782.2 M284.5,783.8 L282.3,781.9 M282.3,781.9 L281.9,777.5 L279.4,773.7 L279.4,769.2 L278.3,765.1 L276.5,761.1 M276.5,761.1 L279.3,757.6 L283.1,755.4 M283.1,755.4 L286.0,755.3 M286.0,755.3 L287.4,756.1 M297.6,769.7 L294.4,769.6 M305.2,754.9 L300.8,755.4 L296.3,754.9 L291.8,755.8 L287.4,756.1 M265.9,778.7 L269.8,780.2 L274.2,780.1 L278.2,781.3 L282.3,781.9 M263.5,762.5 L267.8,761.5 L272.3,762.2 L276.5,761.1 M262.9,739.1 L266.6,740.7 L270.7,741.1 L274.6,741.8 M274.6,741.8 L277.7,746.2 L280.5,750.7 L283.1,755.4 M304.9,739.0 L299.9,738.2 L294.9,737.7 M294.9,737.7 L293.3,742.5 L290.4,746.5 L288.6,751.1 L286.0,755.3 M160.3,455.4 L164.8,456.8 L169.1,458.5 L173.0,461.2 L177.8,461.7 L181.9,464.0 M171.2,481.1 L178.0,478.1 M178.0,478.1 L178.8,473.3 L179.9,468.5 L181.9,464.0 M189.5,527.5 L192.5,523.7 L196.8,521.4 M196.1,549.1 L201.1,548.5 L206.1,549.0 L211.0,548.7 L215.9,547.5 M215.9,547.5 L218.8,542.7 L221.7,537.9 M221.7,537.9 L219.1,531.1 M196.8,521.4 L200.6,522.9 L204.0,525.3 L208.0,526.3 L211.7,528.0 L215.3,529.8 L219.1,531.1 M252.9,527.3 L254.5,523.0 L258.0,519.8 L259.0,515.1 L262.0,511.5 L264.9,508.0 L266.4,503.6 M266.4,503.6 L261.9,501.1 L257.1,499.1 L252.7,496.4 M252.9,527.3 L250.1,523.9 L247.2,520.5 L243.7,517.7 L239.7,515.4 L237.7,511.0 L234.1,508.4 M252.7,496.4 L249.5,499.6 L245.1,500.9 L241.1,502.9 L238.2,506.6 L234.1,508.4 M219.1,417.5 L223.5,418.6 L227.8,420.0 L232.5,420.0 L236.7,421.7 M236.7,421.7 L239.6,418.5 L243.1,416.1 M229.7,392.8 L236.2,393.5 M213.6,409.6 L217.1,413.1 L219.1,417.5 M243.1,416.1 L241.1,411.8 L239.6,407.3 L238.5,402.7 L238.0,397.9 L236.2,393.5 M636.0,400.4 L640.4,401.5 L644.8,402.4 L649.3,402.6 M636.0,400.4 L637.6,394.6 L638.5,388.8 M638.5,388.8 L642.7,388.0 L646.5,386.1 M646.5,386.1 L648.7,390.1 L649.5,394.7 L651.1,399.0 M651.1,399.0 L649.3,402.6 M630.5,404.0 L636.0,400.4 M630.5,404.0 L631.5,410.9 M631.5,410.9 L636.2,412.2 L640.2,415.2 M652.2,413.9 L650.7,408.3 L649.3,402.6 M651.6,378.4 L648.5,381.8 L646.5,386.1 M628.6,378.1 L628.9,383.1 M628.9,383.1 L633.7,385.9 L638.5,388.8 M642.8,370.0 L639.4,372.3 L635.9,374.4 L632.2,376.2 L628.6,378.1 M668.7,393.2 L664.1,393.9 L659.6,395.2 L655.4,397.1 L651.1,399.0 M641.7,362.6 L637.5,360.6 L632.9,359.9 L628.2,359.8 L623.8,358.3 M623.8,358.3 L623.2,358.9 M628.6,378.1 L624.3,374.2 M624.3,374.2 L623.8,369.1 L624.0,363.9 L623.2,358.9 M624.3,374.2 L619.8,374.7 L615.4,375.7 L611.1,376.9 M611.1,376.9 L609.7,371.7 L608.3,366.5 M623.2,358.9 L618.6,360.1 L613.9,360.0 M608.3,366.5 L611.8,363.9 L613.9,360.0 M682.3,287.7 L682.7,293.6 M682.3,287.7 L685.8,285.4 L690.2,284.8 L693.2,281.4 L697.4,280.2 M682.7,293.6 L686.2,296.0 L690.6,296.4 L694.4,298.2 M694.4,298.2 L699.8,295.9 L704.6,292.5 M697.4,280.2 L703.4,285.3 M703.4,285.3 L704.6,292.5 M695.7,312.4 L694.3,307.8 L694.7,303.0 L694.4,298.2 M679.8,313.0 L676.5,307.5 M677.3,300.2 L676.5,307.5 M677.3,300.2 L679.6,296.6 L682.7,293.6 M710.8,279.7 L706.9,282.2 L703.4,285.3 M211.0,130.5 L214.4,131.1 M211.0,130.5 L206.1,133.1 L201.6,136.3 M214.4,131.1 L218.6,135.6 M218.6,135.6 L217.2,140.3 L215.6,144.9 M215.6,144.9 L209.7,145.5 L204.0,147.0 M201.6,136.3 L201.8,141.8 L204.0,147.0 M205.4,122.5 L208.9,126.0 L211.0,130.5 M218.9,120.0 L216.5,125.5 L214.4,131.1 M192.9,131.9 L197.1,134.4 L201.6,136.3 M224.3,134.9 L218.6,135.6 M224.8,155.1 L222.0,154.0 M222.0,154.0 L219.0,149.3 L215.6,144.9 M232.3,142.1 L230.2,146.7 L226.6,150.4 L224.8,155.1 M192.4,149.4 L197.4,148.7 L202.5,149.1 M202.5,149.1 L204.0,147.0 M267.8,152.4 L263.7,154.2 L260.4,157.2 L257.1,160.2 L252.7,161.4 L249.3,164.3 M224.8,155.1 L225.7,156.3 M249.3,164.3 L245.1,163.8 L241.6,161.1 L237.5,160.1 L233.8,158.3 L229.8,157.1 L225.7,156.3 M202.5,149.1 L203.8,153.3 L205.4,157.5 L205.8,161.9 M222.0,154.0 L218.2,156.5 L214.5,159.0 L209.9,159.8 L206.1,162.2 M189.0,154.5 L191.2,159.0 L191.8,163.9 M205.8,161.9 L201.2,163.2 L196.5,163.8 L191.8,163.9 M177.9,167.6 L182.2,166.7 L186.6,166.6 L190.8,165.5 M190.8,165.5 L191.8,163.9 M219.1,417.5 L217.6,421.3 L215.8,425.0 L215.0,429.1 L212.6,432.5 M191.3,420.3 L193.0,424.4 L194.6,428.4 L195.4,432.8 M195.4,432.8 L199.7,433.2 L204.0,431.7 L208.3,432.8 L212.6,432.5 M235.1,437.4 L236.0,432.2 L236.2,426.9 L236.7,421.7 M235.1,437.4 L231.2,439.0 L227.1,439.2 L223.1,440.0 L219.0,440.1 M219.0,440.1 L215.4,436.6 L212.6,432.5 M221.7,537.9 L226.0,538.0 L230.1,540.1 L234.4,540.3 L238.6,541.1 L243.0,541.0 M219.1,531.1 L221.3,527.6 L222.3,523.6 L225.1,520.4 L226.0,516.3 L227.2,512.3 L229.5,508.8 M229.5,508.8 L231.1,507.9 M234.1,508.4 L231.1,507.9 M252.9,527.3 L253.9,532.4 M243.0,541.0 L246.9,538.5 L249.9,534.9 L253.9,532.4 M249.5,260.1 L251.0,256.2 L251.8,252.1 L252.1,247.9 M270.3,250.4 L265.7,250.2 L261.2,249.2 L256.7,248.1 L252.1,247.9 M271.0,251.7 L270.6,258.4 M271.0,251.7 L270.3,250.4 M249.5,260.1 L253.9,262.0 L258.4,263.3 L262.9,264.9 M270.6,258.4 L267.1,262.1 L262.9,264.9 M169.4,279.9 L170.9,275.4 L173.4,271.3 L174.8,266.8 L176.7,262.4 M168.8,250.6 L171.1,254.8 L173.8,258.7 L176.7,262.4 M214.6,292.7 L219.2,295.4 L223.9,297.9 L227.9,301.5 M195.8,299.7 L200.7,298.3 L205.1,295.9 L209.9,294.6 L214.6,292.7 M210.6,327.7 L215.3,325.8 L220.1,324.6 L225.1,323.9 L229.9,322.8 M227.9,301.5 L228.0,305.8 L229.5,310.0 L228.6,314.4 L228.8,318.6 L229.9,322.8 M670.6,327.4 L663.7,325.4 M676.5,307.5 L671.5,308.0 L666.6,308.8 L661.8,310.1 M663.7,325.4 L662.5,320.4 L661.6,315.3 L661.8,310.1 M661.9,348.7 L657.2,345.6 L652.8,341.8 M642.3,361.8 L641.6,356.9 L642.3,352.0 L643.1,347.1 L642.7,342.2 M642.7,342.2 L647.8,341.6 L652.8,341.8 M663.7,325.4 L658.2,327.3 M652.8,341.8 L655.3,337.2 L656.3,332.1 L658.2,327.3 M239.2,703.6 L242.7,701.3 L246.8,700.4 L250.4,698.3 L254.1,696.3 L258.0,694.9 M239.2,703.6 L241.1,707.4 L242.2,711.6 L244.5,715.1 L246.9,718.6 M258.0,694.9 L258.1,699.9 L256.6,704.8 L257.8,709.8 L256.9,714.8 M256.9,714.8 L253.0,717.0 L249.0,718.9 M246.9,718.6 L249.0,718.9 M236.8,726.1 L240.0,723.4 L244.1,721.9 L246.9,718.6 M232.6,701.4 L239.2,703.6 M257.4,736.0 L254.4,732.1 L253.5,727.3 L251.1,723.2 L249.0,718.9 M315.6,684.0 L320.7,687.0 L324.9,691.0 M308.6,705.1 L305.9,700.9 L303.2,696.6 L299.8,692.9 M315.6,684.0 L311.6,685.1 L308.3,688.0 L303.9,688.3 L300.3,690.5 M300.3,690.5 L299.8,692.9 M294.4,718.5 L291.7,715.2 L290.0,711.2 L287.1,708.0 L284.5,704.6 M294.4,718.5 L293.1,722.8 L289.9,726.0 L288.3,730.0 M270.8,720.1 L270.6,719.0 M270.8,720.1 L274.6,722.7 L278.5,725.1 L282.1,727.9 L286.1,730.2 M270.6,719.0 L272.5,715.3 L273.9,711.2 L277.5,708.4 L278.9,704.3 M284.5,704.6 L278.9,704.3 M288.3,730.0 L286.1,730.2 M299.8,692.9 L296.2,696.2 L292.4,699.1 L288.9,702.4 L284.5,704.6 M304.5,717.5 L299.4,717.6 L294.4,718.5 M294.9,737.7 L292.2,733.4 L288.3,730.0 M262.1,737.8 L264.2,733.3 L267.0,729.2 L268.3,724.4 L270.8,720.1 M256.9,714.8 L261.5,716.0 L266.1,717.2 L270.6,719.0 M274.6,741.8 L277.2,738.6 L280.4,736.1 L283.0,732.8 L286.1,730.2 M258.6,694.1 L264.0,692.9 L269.5,693.4 M258.6,694.1 L258.0,694.9 M269.5,693.4 L272.3,697.3 L276.0,700.4 L278.9,704.3 M416.6,532.9 L419.7,536.3 L423.0,539.5 L425.5,543.4 M416.6,532.9 L414.4,536.4 L410.7,538.5 L408.1,541.7 L405.2,544.5 M405.2,544.5 L406.6,549.1 L410.4,552.4 L411.8,557.0 M315.6,684.0 L317.0,679.1 L316.3,673.8 L318.0,669.0 M318.0,669.0 L322.1,666.0 L326.8,664.2 M323.1,589.4 L326.6,587.1 L330.8,586.6 L334.5,584.9 L338.3,583.4 L342.2,582.3 M323.1,589.4 L323.2,594.0 L325.1,598.0 M356.7,592.9 L353.2,590.1 L350.0,586.9 L346.3,584.3 L342.2,582.3 M356.7,592.9 L357.0,597.1 L356.4,601.3 L356.6,605.5 M347.8,611.3 L343.7,609.6 L340.1,607.1 L336.7,604.3 L332.8,602.3 L328.5,601.0 L325.1,598.0 M380.7,582.9 L375.1,581.3 L370.3,578.1 M370.3,578.1 L367.2,580.7 L364.6,583.8 L361.9,586.8 L359.9,590.3 L356.7,592.9 M165.9,505.7 L170.3,505.2 L174.4,503.8 L178.5,501.9 L182.8,501.0 L187.2,500.6 M178.0,478.1 L181.3,481.1 L184.2,484.5 L188.3,486.6 M188.3,486.6 L187.7,491.3 L188.0,496.0 L187.2,500.6 M196.8,521.4 L198.0,515.9 L198.3,510.3 M187.2,500.6 L191.3,503.4 L194.4,507.3 L198.3,510.3 M229.5,508.8 L224.8,508.1 L220.1,508.0 L215.6,506.1 L211.0,505.2 L206.4,504.3 M206.4,504.3 L201.9,506.7 L198.3,510.3 M244.8,476.5 L249.4,479.7 M249.4,479.7 L254.0,479.2 L258.3,477.6 L262.9,477.3 L267.3,475.7 L271.9,475.3 M264.9,456.0 L259.3,455.6 L253.7,455.9 M244.8,476.5 L246.8,472.5 L248.6,468.4 L249.5,463.9 L252.3,460.2 L253.7,455.9 M264.9,456.0 L268.2,458.8 L271.5,461.5 M271.5,461.5 L271.1,466.1 L272.7,470.7 L271.9,475.3 M227.9,488.7 L230.8,485.9 L233.7,483.0 L235.7,479.4 L238.0,476.2 M227.9,488.7 L223.9,488.5 L220.3,486.0 L216.2,485.8 L212.2,485.5 L208.4,484.1 M238.0,476.2 L235.7,472.9 L233.6,469.4 L229.9,467.2 L228.0,463.6 M207.1,476.0 L206.7,481.8 M207.1,476.0 L210.4,472.7 L213.7,469.3 L217.3,466.3 L219.9,462.3 M228.0,463.6 L223.8,463.8 L219.9,462.3 M208.4,484.1 L206.7,481.8 M231.1,507.9 L230.3,503.1 L230.0,498.2 L229.1,493.4 L227.9,488.7 M252.7,496.4 L252.6,492.1 L251.4,488.0 L250.5,483.8 L249.4,479.7 M244.8,476.5 L238.0,476.2 M206.4,504.3 L207.0,500.3 L206.5,496.2 L208.3,492.3 L208.0,488.2 L208.4,484.1 M244.1,446.0 L248.0,448.6 L250.0,453.0 L253.7,455.9 M240.9,445.3 L244.1,446.0 M240.9,445.3 L238.0,448.7 L235.5,452.4 L233.9,456.8 L230.2,459.7 L228.0,463.6 M214.4,453.2 L215.6,448.7 L218.1,444.7 L219.0,440.1 M240.9,445.3 L237.4,441.8 L235.1,437.4 M214.4,453.2 L217.4,457.6 L219.9,462.3 M188.3,486.6 L192.7,484.7 L197.3,483.3 L202.0,482.7 L206.7,481.8 M628.9,383.1 L625.0,386.8 L621.8,391.1 M630.5,404.0 L624.7,400.6 M624.7,400.6 L623.1,395.9 L621.8,391.1 M611.1,376.9 L607.5,383.8 M621.8,391.1 L616.8,390.1 L612.1,388.4 M611.7,419.7 L614.6,417.1 M616.1,437.2 L619.6,435.0 L622.3,431.9 L625.6,429.4 L627.9,425.8 M614.6,417.1 L620.2,417.4 L625.7,418.4 M625.7,418.4 L627.9,425.8 M598.9,419.6 L598.5,414.4 L600.3,409.2 L599.6,404.0 M598.9,419.6 L602.6,421.8 L605.1,425.2 M613.5,406.3 L608.9,403.7 M613.5,406.3 L613.5,411.8 L614.6,417.1 M588.1,419.7 L593.5,420.6 L598.9,419.6 M633.3,445.2 L629.2,443.4 L624.9,442.2 L620.5,441.2 L616.4,439.6 M640.3,431.8 L636.0,430.2 L631.6,428.6 L627.9,425.8 M631.5,410.9 L628.8,414.8 L625.7,418.4 M613.5,406.3 L617.2,404.4 L620.7,402.1 L624.7,400.6 M677.4,281.4 L673.1,281.2 L669.0,281.9 L665.1,283.7 M677.4,281.4 L678.2,274.6 M665.1,283.7 L660.9,277.0 M697.4,280.2 L696.4,275.9 L696.3,271.5 M682.3,287.7 L680.0,284.4 L677.4,281.4 M250.2,243.8 L252.1,247.9 M270.3,250.4 L271.2,246.0 L270.8,241.6 L270.8,237.2 M250.2,243.8 L252.7,239.3 L255.7,235.1 M270.8,237.2 L265.9,235.8 L260.7,235.8 L255.7,235.1 M289.7,221.1 L289.8,225.2 L289.8,229.2 L290.6,233.2 M289.7,221.1 L284.2,218.7 M284.2,218.7 L281.7,222.4 L278.3,225.3 L276.1,229.2 L273.0,232.3 M290.6,233.2 L284.9,237.6 M284.9,237.6 L280.9,236.4 L276.7,236.2 L272.8,234.8 M272.8,234.8 L273.0,232.3 M290.5,203.2 L286.5,205.3 L283.4,208.7 L279.6,211.1 M302.7,217.4 L298.1,217.7 L294.2,220.5 L289.7,221.1 M279.6,211.1 L281.5,215.1 L284.2,218.7 M271.0,251.7 L275.2,251.7 L279.4,251.1 L283.4,249.7 L287.5,249.0 M270.8,237.2 L272.8,234.8 M287.5,249.0 L286.3,243.3 L284.9,237.6 M281.8,171.9 L280.0,175.9 L276.9,179.1 L274.9,182.9 L273.1,186.9 L271.0,190.7 L268.8,194.4 M279.6,211.1 L278.3,210.4 M268.8,194.4 L270.4,198.8 L273.4,202.5 L276.6,206.0 L278.3,210.4 M305.3,250.4 L309.3,248.1 L313.9,247.8 L318.0,245.8 M305.3,250.4 L299.4,246.5 M299.4,246.5 L299.4,241.8 L299.2,237.1 M318.4,244.2 L318.0,245.8 M318.4,244.2 L316.3,240.3 L313.8,236.6 L310.9,233.2 L309.5,228.8 M309.5,228.8 L305.7,231.1 L302.8,234.5 L299.2,237.1 M290.6,233.2 L294.9,235.1 L299.2,237.1 M287.5,249.0 L289.3,250.1 M289.3,250.1 L294.3,248.2 L299.4,246.5 M331.1,236.4 L327.3,239.6 L322.2,240.8 L318.4,244.2 M310.3,222.9 L309.5,228.8 M268.8,194.4 L263.7,195.2 L259.4,198.7 L254.2,199.4 M243.9,192.7 L247.9,194.2 L250.9,197.0 L254.2,199.4 M249.3,164.3 L246.3,167.5 L245.0,171.7 L242.8,175.4 M243.9,192.7 L241.1,185.2 M241.1,185.2 L242.8,180.4 L242.8,175.4 M225.7,156.3 L224.7,160.2 L223.1,164.0 L221.2,167.6 L220.6,171.7 M242.8,175.4 L238.4,174.3 L233.8,174.3 L229.5,173.2 L225.1,172.2 L220.6,171.7 M206.1,162.2 L206.9,164.7 M206.9,164.7 L211.3,167.1 L215.8,169.2 L219.7,172.2 M220.6,171.7 L219.7,172.2 M183.6,443.4 L186.7,440.8 L190.7,439.5 L193.9,437.0 M183.6,443.4 L183.9,447.5 L183.6,451.6 L183.1,455.7 L181.4,459.7 L182.1,463.9 M193.9,437.0 L195.2,441.1 L198.2,444.1 L200.9,447.5 L202.5,451.4 M202.5,451.4 L199.6,455.5 L195.8,459.1 L193.3,463.6 M182.1,463.9 L187.7,463.9 L193.3,463.6 M166.5,438.1 L170.5,440.2 L174.8,441.5 L179.1,442.7 L183.6,443.4 M195.4,432.8 L193.9,437.0 M214.4,453.2 L210.6,451.9 L206.5,452.0 L202.5,451.4 M207.1,476.0 L203.2,473.4 L200.6,469.4 L197.4,466.0 L193.3,463.6 M311.6,415.0 L316.4,413.4 L320.8,411.2 M311.6,415.0 L312.3,419.6 L311.0,424.3 L311.2,428.9 L311.3,433.5 L312.3,438.0 M320.8,411.2 L325.2,415.0 L329.9,418.3 M329.9,418.3 L329.3,422.4 L331.1,426.4 L330.9,430.6 M312.3,438.0 L316.1,436.7 L320.1,436.0 L323.8,434.5 L327.4,432.6 L330.9,430.6 M318.0,245.8 L320.2,250.2 L322.6,254.5 L325.2,258.7 M325.2,258.7 L329.2,259.1 L333.2,259.8 M268.1,552.6 L265.2,549.1 L264.0,544.5 L261.0,541.0 L258.3,537.3 L256.1,533.3 M268.1,552.6 L272.2,552.6 L276.4,552.6 L280.5,553.0 L284.6,553.9 M256.1,533.3 L260.6,532.8 L265.0,531.3 L269.5,530.5 L274.1,530.7 L278.3,528.4 L283.0,528.4 M283.0,528.4 L283.5,532.5 L285.9,535.9 L286.5,540.0 L287.8,543.7 L289.8,547.3 M284.6,553.9 L287.5,550.8 L289.8,547.3 M253.9,532.4 L256.1,533.3 M243.0,541.0 L243.9,545.1 L242.8,549.2 L243.3,553.3 L243.7,557.4 L243.3,561.5 L243.4,565.6 M268.1,552.6 L265.3,555.9 L263.3,559.6 L260.8,563.1 L258.6,566.7 L255.7,569.8 M255.7,569.8 L251.4,569.1 L247.6,566.8 L243.4,565.6 M286.2,572.5 L282.7,575.7 L280.7,580.1 M286.2,572.5 L285.0,567.9 L285.7,563.2 L285.2,558.5 L284.6,553.9 M280.7,580.1 L276.1,579.3 L271.4,579.9 L266.8,579.7 L262.3,579.0 M255.7,569.8 L259.3,574.2 L262.3,579.0 M207.3,645.2 L212.5,645.6 L217.7,645.3 L222.8,644.3 M207.3,645.2 L204.7,649.5 L203.5,654.6 L201.0,659.0 M222.8,644.3 L222.2,649.0 L221.4,653.6 L219.8,658.1 L219.2,662.8 M201.0,659.0 L205.2,660.7 L208.7,663.9 L212.9,665.7 M212.9,665.7 L219.2,662.8 M179.5,640.7 L183.7,639.8 L187.5,637.8 L191.2,635.7 L195.4,634.9 M195.4,634.9 L199.7,638.0 L203.3,641.9 L207.3,645.2 M192.3,662.6 L196.8,661.2 L201.0,659.0 M209.7,678.5 L210.1,674.0 L212.1,670.0 L212.9,665.7 M235.6,677.1 L236.5,676.1 M236.5,676.1 L233.5,672.8 L229.8,670.4 L226.6,667.5 L223.2,664.7 L219.2,662.8 M216.9,193.3 L212.4,195.2 L207.8,196.8 L203.0,197.7 M216.9,193.3 L219.3,187.3 M219.3,187.3 L217.1,181.8 M217.1,181.8 L212.1,179.9 L206.8,179.9 L201.7,178.6 M203.0,197.7 L199.9,194.6 M201.7,178.6 L196.8,181.4 M241.1,185.2 L236.8,186.4 L232.4,185.8 L228.0,186.5 L223.7,187.5 L219.3,187.3 M219.7,172.2 L217.6,176.8 L217.1,181.8 M206.9,164.7 L205.2,169.4 L202.5,173.7 L201.7,178.6 M198.2,212.4 L202.1,208.0 M190.9,212.7 L198.2,212.4 M202.1,208.0 L202.1,202.8 L203.0,197.7 M190.8,165.5 L192.6,169.3 L192.7,173.4 M193.2,175.5 L194.4,180.5 M187.8,287.3 L190.5,283.6 L191.3,279.1 L194.4,275.6 L195.5,271.2 M176.7,262.4 L181.2,260.8 L185.7,259.1 M195.5,271.2 L192.6,266.9 L188.4,263.6 L185.7,259.1 M202.1,208.0 L206.4,208.9 L210.2,211.1 L214.2,213.0 L218.6,213.5 M216.9,193.3 L219.6,198.5 L223.4,202.9 M218.6,213.5 L221.7,208.5 L223.4,202.9 M243.9,192.7 L239.9,195.6 L235.9,198.7 L232.9,202.7 M232.9,202.7 L228.2,203.4 L223.4,202.9 M202.0,225.3 L206.3,225.7 L210.1,227.6 M198.2,212.4 L200.0,216.6 L200.6,221.0 L202.0,225.3 M218.6,213.5 L219.7,216.8 M210.1,227.6 L213.1,223.8 L215.8,219.8 L219.7,216.8 M236.9,217.4 L232.5,220.0 L227.5,221.1 M236.9,217.4 L235.1,212.6 L233.9,207.7 L232.9,202.7 M219.7,216.8 L223.8,218.6 L227.5,221.1 M210.1,227.6 L211.7,231.2 L213.6,234.7 M227.5,221.1 L227.2,226.7 L227.5,232.3 M227.5,232.3 L222.8,232.4 L218.3,234.2 L213.6,234.7 M242.6,278.7 L238.6,277.0 L234.2,277.3 L230.1,276.3 M242.6,278.7 L243.3,274.5 L244.2,270.4 L245.8,266.4 L246.2,262.1 M230.1,276.3 L230.3,272.1 L229.4,268.0 L229.0,263.9 L229.1,259.8 M246.2,262.1 L241.9,261.0 L238.1,258.8 L234.3,256.5 M234.3,256.5 L229.1,259.8 M245.3,293.9 L241.3,296.6 L236.8,298.0 L232.5,300.2 L227.9,301.5 M214.6,292.7 L216.3,288.8 L218.0,284.9 L219.0,280.8 M245.4,282.3 L242.6,278.7 M245.4,282.3 L245.4,288.1 L245.3,293.9 M219.0,280.8 L224.5,278.5 L230.1,276.3 M262.9,264.9 L263.2,269.0 L262.0,273.1 L263.0,277.3 M245.4,282.3 L250.1,282.0 L254.3,280.1 L258.8,279.2 L263.0,277.3 M249.5,260.1 L246.2,262.1 M250.2,243.8 L245.1,243.0 L240.2,241.6 L235.1,240.7 M234.9,241.0 L234.9,246.2 L233.6,251.3 L234.3,256.5 M234.9,357.3 L238.8,350.4 M222.9,359.5 L227.0,359.0 L231.1,358.8 L234.9,357.3 M229.9,322.8 L233.8,324.8 M238.8,350.4 L238.2,346.1 L236.4,342.0 L236.0,337.7 L235.7,333.3 L235.5,328.9 L233.8,324.8 M243.3,387.6 L239.5,390.3 L236.2,393.5 M243.3,387.6 L244.3,383.2 L245.8,379.0 M234.9,357.3 L237.2,360.6 L239.8,363.6 L242.5,366.5 M245.8,379.0 L245.6,374.6 L243.8,370.6 L242.5,366.5 M238.8,350.4 L243.5,348.0 L249.1,348.3 L253.8,345.9 M262.1,350.9 L257.6,349.0 L253.8,345.9 M262.1,350.9 L263.3,356.6 L264.0,362.5 M242.5,366.5 L247.0,366.6 L251.2,365.3 L255.5,364.5 L259.7,363.2 L264.0,362.5 M276.4,321.6 L281.3,321.4 L286.3,321.2 L291.2,321.7 M276.4,321.6 L278.0,316.6 L278.3,311.4 L279.7,306.4 M279.7,306.4 L284.4,306.5 L288.9,307.6 L293.4,309.1 M293.4,309.1 L295.1,313.5 M295.1,313.5 L293.8,317.9 L291.2,321.7 M325.2,258.7 L321.1,261.6 L318.2,265.7 M305.3,250.4 L305.4,255.1 L305.0,259.8 L304.1,264.5 M304.1,264.5 L308.8,265.2 L313.5,264.9 L318.2,265.7 M289.3,250.1 L288.9,254.7 L289.4,259.3 L290.0,263.8 M290.0,263.8 L294.3,264.5 L298.7,264.7 L303.1,265.3 M304.1,264.5 L303.1,265.3 M281.9,266.8 L279.6,271.3 L276.9,275.5 L274.3,279.7 M281.9,266.8 L286.4,266.5 M286.4,266.5 L287.5,271.0 L290.2,274.9 L290.8,279.5 M274.3,279.7 L278.3,280.7 L281.8,283.0 L285.8,284.1 M290.8,279.5 L285.8,284.1 M270.6,258.4 L274.1,261.6 L278.1,264.1 L281.9,266.8 M263.0,277.3 L269.4,281.9 M269.4,281.9 L274.3,279.7 M290.0,263.8 L286.4,266.5 M587.5,347.4 L589.4,342.0 L592.2,336.9 M587.5,347.4 L591.6,348.4 L595.3,350.6 L599.3,352.1 M602.0,335.5 L605.2,338.5 L607.6,342.1 M607.6,342.1 L604.8,349.5 M599.3,352.1 L604.8,349.5 M623.8,358.3 L624.6,351.9 M624.6,351.9 L621.8,347.9 L618.7,344.2 L615.1,340.8 M613.9,360.0 L611.2,356.2 L608.0,352.8 L604.8,349.5 M615.1,340.8 L607.6,342.1 M487.7,462.9 L494.4,461.3 M487.7,462.9 L485.5,467.3 L484.7,472.3 L483.4,477.0 M494.4,461.3 L497.2,464.4 L499.7,467.8 L501.7,471.5 M483.4,477.0 L487.6,478.6 L491.0,481.6 M465.9,457.1 L465.2,457.7 M466.0,478.5 L466.1,474.4 L466.2,470.2 L465.7,466.0 L464.6,461.9 L465.2,457.7 M476.9,456.0 L480.3,458.6 L483.8,461.0 L487.7,462.9 M476.9,456.0 L471.4,456.8 L465.9,457.1 M475.8,480.8 L470.9,479.6 L466.0,478.5 M475.8,480.8 L479.2,478.1 L483.4,477.0 M475.8,480.8 L477.0,485.6 L479.4,490.0 L480.2,495.0 L481.3,499.9 M483.7,501.0 L481.3,499.9 M517.4,463.4 L522.1,464.4 L526.9,464.4 L531.7,464.3 L536.4,464.9 M517.4,463.4 L514.9,467.6 L514.1,472.3 M520.0,437.6 L514.6,439.0 L509.5,440.9 M520.0,437.6 L521.7,443.1 L524.9,447.7 M524.9,447.7 L521.9,450.9 L518.6,453.8 L515.8,457.2 M509.5,440.9 L508.0,444.9 L507.9,449.3 L505.8,453.1 M505.8,453.1 L510.8,454.9 L515.0,458.0 M523.0,431.0 L520.0,437.6 M529.6,429.0 L523.0,431.0 M533.6,450.0 L529.0,449.6 L524.9,447.7 M517.4,463.4 L516.9,462.2 M499.6,454.8 L497.5,458.4 L494.4,461.3 M499.6,454.8 L505.8,453.1 M289.8,547.3 L295.1,548.2 L300.4,547.6 L305.7,547.2 M286.2,572.5 L290.6,573.0 L295.0,573.5 L299.4,572.1 L303.8,573.3 L308.2,572.9 L312.6,573.0 M305.7,547.2 L307.1,551.4 L307.6,555.9 L308.6,560.2 L310.1,564.4 L311.1,568.8 L312.6,573.0 M316.4,584.1 L315.8,578.8 L313.8,573.8 M316.4,584.1 L313.1,586.8 L309.1,588.5 L306.0,591.5 L302.0,593.3 L298.7,596.1 L295.3,598.7 L292.0,601.3 M292.0,601.3 L288.2,599.1 M280.7,580.1 L281.3,584.3 L283.6,587.7 L285.7,591.3 L286.6,595.3 L288.2,599.1 M312.6,573.0 L313.8,573.8 M405.2,544.5 L397.6,545.1 M398.2,568.3 L395.0,564.8 L392.2,561.0 M392.2,561.0 L394.5,557.3 L394.3,552.8 L396.5,549.1 L397.6,545.1 M388.0,532.6 L388.6,538.1 M388.0,532.6 L391.1,529.9 L393.5,526.5 L397.3,524.5 L400.1,521.5 L403.0,518.6 M413.6,524.4 L410.0,522.6 L407.0,519.8 L403.0,518.6 M416.6,532.9 L416.7,530.5 M416.7,530.5 L413.6,524.4 M388.6,538.1 L393.6,541.0 L397.6,545.1 M416.7,530.5 L421.5,529.6 L425.9,527.8 L430.7,527.0 L435.3,525.9 M441.3,531.1 L435.3,525.9 M244.1,446.0 L247.1,443.2 L250.7,441.2 L254.2,439.0 L256.4,435.2 L260.1,433.3 L263.3,430.8 M243.1,416.1 L247.3,416.5 M247.3,416.5 L250.2,419.7 L254.0,421.9 L257.1,424.8 L259.5,428.6 L263.3,430.8 M264.9,456.0 L264.8,451.8 L266.4,447.9 L267.3,443.9 L267.9,439.8 L267.4,435.6 L268.9,431.6 M263.3,430.8 L268.9,431.6 M285.4,453.8 L280.3,455.6 L276.6,459.8 L271.5,461.5 M285.4,453.8 L286.4,446.0 M286.4,446.0 L282.6,443.6 L280.2,439.9 L276.4,437.6 L273.6,434.2 L270.7,431.0 M268.9,431.6 L270.7,431.0 M264.2,219.9 L260.3,222.1 L257.1,225.1 L253.6,227.8 M264.2,219.9 L264.3,219.4 M264.3,219.4 L261.7,215.8 L259.6,212.0 L255.7,209.5 L253.7,205.5 M253.7,205.5 L250.3,208.4 L248.3,212.2 L245.7,215.6 L243.5,219.3 M253.6,227.8 L248.8,226.2 L245.1,222.9 M245.1,222.9 L243.5,219.3 M273.0,232.3 L270.6,227.7 L266.9,224.2 L264.2,219.9 M255.7,235.1 L253.6,227.8 M278.3,210.4 L274.9,212.8 L271.1,214.7 L267.9,217.3 L264.3,219.4 M254.2,199.4 L253.7,205.5 M236.9,217.4 L243.5,219.3 M235.1,240.7 L237.8,237.5 L239.8,234.0 L240.8,229.9 L242.6,226.2 L245.1,222.9 M235.1,240.7 L231.1,236.6 L227.5,232.3 M343.5,412.4 L338.6,413.5 L334.6,416.7 L329.9,418.3 M343.5,412.4 L344.3,408.0 L345.1,403.5 M320.8,411.2 L321.4,406.5 L323.1,402.1 L324.3,397.5 M324.3,397.5 L328.8,396.8 L332.6,394.3 M332.6,394.3 L336.9,397.2 L341.5,399.7 L345.1,403.5 M330.9,430.6 L334.9,433.4 L338.9,436.4 L343.3,438.6 M343.5,412.4 L346.8,416.0 L350.2,419.5 L352.8,423.7 L355.6,427.7 M355.6,427.7 L351.5,430.8 L348.1,434.8 L344.3,438.4 M343.3,438.6 L344.3,438.4 M310.9,440.1 L311.4,441.9 M310.9,440.1 L312.3,438.0 M326.8,455.5 L323.1,453.5 L320.9,449.8 L317.2,447.7 L314.5,444.6 L311.4,441.9 M326.8,455.5 L332.6,455.7 M343.3,438.6 L341.3,442.1 L339.6,445.8 L337.1,449.0 L335.1,452.6 L332.6,455.7 M467.4,395.5 L471.7,395.1 L475.9,393.8 L480.2,394.0 M467.4,395.5 L468.4,391.3 L468.1,387.1 L467.9,383.0 L467.4,378.8 M467.4,378.8 L473.3,379.2 L479.0,380.6 M479.0,380.6 L479.3,386.5 L481.4,391.9 M481.4,391.9 L480.2,394.0 M495.8,381.0 L496.9,383.9 M494.3,388.2 L496.9,383.9 M494.3,388.2 L489.7,388.6 L485.9,391.4 L481.4,391.9 M484.4,375.4 L479.0,380.6 M495.8,381.0 L491.8,379.6 L487.8,377.9 L484.4,375.4 M355.6,427.7 L359.7,426.6 L363.9,426.3 M363.9,426.3 L364.8,421.4 L365.5,416.6 L364.9,411.6 L365.1,406.7 M345.1,403.5 L350.1,401.2 L355.1,399.2 M365.1,406.7 L362.1,403.8 L358.9,401.1 L355.1,399.2 M417.5,320.9 L416.5,325.8 L415.6,330.8 M400.4,321.3 L400.7,323.5 M415.6,330.8 L413.2,331.8 M413.2,331.8 L409.0,329.0 L404.7,326.4 L400.7,323.5 M369.1,310.7 L366.2,313.8 L363.3,316.7 L360.2,319.6 M351.4,300.8 L351.3,301.9 M360.2,319.6 L359.6,319.7 M351.3,301.9 L354.1,306.0 L354.7,311.2 L357.5,315.3 L359.6,319.7 M333.9,300.4 L333.5,304.7 L333.9,308.9 L333.7,313.1 M333.7,313.1 L339.6,316.6 M341.6,294.2 L337.4,296.9 L333.9,300.4 M351.3,301.9 L348.8,305.9 L344.9,308.8 L341.8,312.4 L339.6,316.6 M262.3,579.0 L261.2,583.0 L258.9,586.5 L258.0,590.5 L255.4,593.8 M288.2,599.1 L283.6,600.6 L279.5,603.0 L275.6,605.9 L270.6,606.3 L266.6,609.0 M266.6,609.0 L264.5,604.7 L260.7,601.7 L258.6,597.4 L255.4,593.8 M227.5,641.0 L222.8,644.3 M227.5,641.0 L227.3,637.7 M195.4,634.9 L196.5,630.3 L199.4,626.5 L200.6,622.0 L201.9,617.5 L204.7,613.7 M227.3,637.7 L224.2,635.0 L221.7,631.7 L218.1,629.4 L216.5,625.2 L213.0,622.8 L210.3,619.7 L208.2,616.0 L204.7,613.7 M316.4,584.1 L319.3,587.5 L323.1,589.4 M292.0,601.3 L293.7,605.0 M325.1,598.0 L322.6,601.4 L320.5,604.9 L318.2,608.4 L316.5,612.2 L314.6,615.9 M293.7,605.0 L297.8,607.4 L301.7,610.0 L306.6,610.9 L310.0,614.6 L314.6,615.9 M327.9,622.9 L323.3,621.1 L318.9,618.9 L314.7,616.2 M324.4,644.7 L320.3,643.4 L316.2,642.6 L312.0,641.7 L308.1,640.1 L303.8,639.8 M314.7,616.2 L313.8,620.5 L311.7,624.4 L309.8,628.3 L307.3,631.9 L305.8,636.0 L303.8,639.8 M255.4,593.8 L250.6,594.9 L246.1,596.6 L241.4,597.7 M241.4,597.7 L240.9,602.8 L238.0,607.1 L237.2,612.1 M239.1,616.6 L237.2,612.1 M266.6,609.0 L265.2,614.1 L263.8,619.2 M239.1,616.6 L243.4,617.9 L247.7,619.1 L251.5,621.7 L255.9,622.5 M255.9,622.5 L259.9,621.1 L263.8,619.2 M241.4,597.7 L237.3,594.6 L234.3,590.6 L231.0,586.8 M243.4,565.6 L238.0,568.2 M231.0,586.8 L233.7,582.5 L234.1,577.3 L235.5,572.6 L238.0,568.2 M215.9,547.5 L217.9,551.9 L219.1,556.6 L219.4,561.4 M219.4,561.4 L224.4,562.3 L228.7,564.8 L233.1,567.3 L238.0,568.2 M219.0,280.8 L217.3,276.3 L214.9,272.3 L211.6,268.8 L209.4,264.7 M229.1,259.8 L224.6,258.5 L220.0,258.0 M209.4,264.7 L212.4,261.7 L216.7,260.7 L220.0,258.0 M195.5,271.2 L199.5,268.5 L204.1,266.9 L208.1,264.3 M209.4,264.7 L208.1,264.3 M234.9,241.0 L231.2,242.9 L227.3,244.0 L223.5,245.5 L219.7,246.9 M220.0,258.0 L220.1,252.4 L219.7,246.9 M213.6,234.7 L212.0,241.3 M219.7,246.9 L215.7,244.4 L212.0,241.3 M184.8,246.6 L188.8,252.0 M184.8,246.6 L185.4,241.9 L187.4,237.5 L188.5,232.9 M188.8,252.0 L193.1,252.0 L197.3,250.6 L201.6,250.3 M188.5,232.9 L194.2,232.8 M194.2,232.8 L195.7,236.7 L198.8,239.6 L201.1,242.9 L203.2,246.5 M203.2,246.5 L201.6,250.3 M175.9,245.9 L180.3,246.0 L184.8,246.6 M185.7,259.1 L188.8,252.0 M184.8,230.2 L188.5,232.9 M208.1,264.3 L206.8,259.2 L203.4,255.1 L201.6,250.3 M202.0,225.3 L198.0,228.9 L194.2,232.8 M212.0,241.3 L207.6,243.8 L203.2,246.5 M299.1,296.9 L296.3,300.6 L296.1,305.4 L293.4,309.1 M299.1,296.9 L295.3,294.3 L290.6,293.7 L286.6,291.6 M279.7,306.4 L275.4,301.6 M286.6,291.6 L282.4,293.6 L279.2,297.2 L275.0,299.2 M275.4,301.6 L275.0,299.2 M269.4,281.9 L269.0,287.4 L269.5,292.9 M286.6,291.6 L285.8,284.1 M275.0,299.2 L272.0,296.3 L269.5,292.9 M245.3,293.9 L250.3,298.5 M269.5,292.9 L264.8,294.9 L260.0,296.4 L255.3,297.8 L250.3,298.5 M246.3,321.2 L248.8,324.8 L252.5,327.1 L255.7,330.0 L258.5,333.2 M246.3,321.2 L250.4,316.8 L253.4,311.7 M261.6,312.8 L257.5,312.2 L253.4,311.7 M261.6,312.8 L265.1,317.4 L269.2,321.5 M269.2,321.5 L267.3,325.3 L265.2,329.0 L262.4,332.3 M258.5,333.2 L262.4,332.3 M253.8,345.9 L254.7,341.4 L256.6,337.3 L258.5,333.2 M233.8,324.8 L238.0,323.4 L242.3,322.7 L246.3,321.2 M250.3,298.5 L251.5,302.9 L252.6,307.2 L253.4,311.7 M275.4,301.6 L272.3,304.8 L268.6,307.3 L264.9,309.9 L261.6,312.8 M276.2,321.7 L269.2,321.5 M245.8,379.0 L250.7,377.7 L255.7,378.4 L260.7,378.2 L265.6,376.9 M268.6,366.7 L264.0,362.5 M265.6,376.9 L267.3,372.0 L268.7,367.0 M289.3,359.3 L285.9,356.6 L283.1,353.4 M268.6,366.7 L272.9,364.1 L275.4,359.5 L279.1,356.3 L283.1,353.4 M290.6,368.8 L289.5,371.3 M290.6,368.8 L290.5,364.0 L289.3,359.3 M289.5,371.3 L285.2,373.6 M268.7,367.0 L272.6,369.2 L277.1,370.0 L281.4,371.2 L285.2,373.6 M289.9,389.5 L285.1,387.0 L280.2,385.1 M298.8,383.9 L294.5,386.9 L289.9,389.5 M298.8,383.9 L296.2,379.3 L291.9,376.0 L289.5,371.3 M285.2,373.6 L283.5,377.4 L282.5,381.5 L280.2,385.1 M318.2,265.7 L317.9,270.8 L318.6,275.8 L320.2,280.6 M322.4,283.0 L320.2,280.6 M303.1,265.3 L302.9,270.0 L302.7,274.8 L303.1,279.6 M320.2,280.6 L315.9,279.6 L311.7,279.3 L307.3,280.6 L303.1,279.6 M299.1,296.9 L301.5,295.5 M290.8,279.5 L296.2,280.1 L301.5,281.4 M301.5,295.5 L302.1,290.8 L301.1,286.1 L301.5,281.4 M301.5,281.4 L303.1,279.6 M604.6,318.8 L606.1,315.0 L608.8,311.8 L609.6,307.7 M608.5,324.1 L612.9,324.7 L617.3,325.5 L621.8,326.0 M615.1,340.8 L617.1,336.9 L619.4,333.3 L622.4,330.1 M622.4,330.1 L621.8,326.0 M624.6,351.9 L628.2,349.8 L631.0,346.8 L633.2,343.1 L636.7,340.9 M622.4,330.1 L625.4,333.5 L629.1,336.1 L633.3,337.9 L636.7,340.9 M618.1,305.6 L618.2,309.7 L620.4,313.4 L621.0,317.5 L620.6,321.7 L622.1,325.6 M621.8,326.0 L622.1,325.6 M642.7,342.2 L640.3,340.7 M636.7,340.9 L640.3,340.7 M587.5,347.4 L584.0,348.9 M577.3,336.9 L577.4,341.9 L577.7,346.9 M584.0,348.9 L577.7,346.9 M563.6,379.8 L564.8,374.5 M564.8,374.5 L561.6,372.0 L558.6,369.2 M555.1,369.6 L558.6,369.2 M496.9,383.9 L501.4,384.2 L505.9,384.9 L510.2,386.2 M501.6,366.7 L503.7,366.0 M501.6,366.7 L500.3,371.7 L497.8,376.2 L495.8,381.0 M513.6,384.5 L510.2,386.2 M513.6,384.5 L512.2,379.4 L510.1,374.6 L509.6,369.2 M509.6,369.2 L503.7,366.0 M497.0,432.4 L491.1,427.5 M497.0,432.4 L494.3,437.6 L492.4,443.2 M491.1,427.5 L485.6,428.5 L480.0,427.9 M492.4,443.2 L487.5,444.3 L482.4,444.0 M482.4,444.0 L481.2,439.9 L478.4,436.6 L476.8,432.7 M476.8,432.7 L480.0,427.9 M501.0,432.3 L497.0,432.4 M509.5,440.9 L506.1,438.6 L503.7,435.3 L501.0,432.3 M499.6,454.8 L496.7,451.3 L494.2,447.4 L492.4,443.2 M476.9,456.0 L479.6,452.4 L479.8,447.6 L482.4,444.0 M465.9,457.1 L466.3,452.8 L465.6,448.5 L465.1,444.2 L466.3,439.9 L465.5,435.6 M465.5,435.6 L471.1,434.2 L476.8,432.7 M480.2,394.0 L482.9,397.8 L484.3,402.3 L486.0,406.6 M494.3,388.2 L495.5,394.0 L497.0,399.6 M497.0,399.6 L493.4,402.1 L489.9,404.6 L486.0,406.6 M475.4,414.6 L477.2,418.9 L478.8,423.3 L480.0,427.9 M475.4,414.6 L478.8,412.1 L482.9,410.5 L485.9,407.2 M491.1,427.5 L493.1,423.8 L493.4,419.6 L494.5,415.6 M494.5,415.6 L492.2,412.3 L488.3,410.5 L485.9,407.2 M462.5,400.0 L467.4,395.5 M462.5,400.0 L464.3,404.3 L466.0,408.6 L468.6,412.5 M468.6,412.5 L475.4,414.6 M486.0,406.6 L485.9,407.2 M313.8,573.8 L317.0,571.0 L320.8,569.0 L324.3,566.5 L327.3,563.4 L331.2,561.6 M342.2,582.3 L343.3,578.1 L342.3,573.8 L342.8,569.6 M331.2,561.6 L335.0,564.4 L339.5,566.2 L342.8,569.6 M286.6,520.5 L291.4,520.2 L296.2,519.7 L301.0,520.2 L305.8,519.1 M283.0,528.4 L284.0,524.1 L286.6,520.5 M305.7,547.2 L309.3,545.1 L311.9,541.9 M311.9,541.9 L310.1,537.5 L310.1,532.6 L308.7,528.1 L307.2,523.6 L305.8,519.1 M388.0,532.6 L384.5,530.3 L381.2,527.6 L378.1,524.7 L374.3,522.6 L371.1,519.9 M400.8,513.4 L403.0,518.6 M400.8,513.4 L395.8,513.6 L391.1,511.6 L386.3,511.0 L381.3,510.7 M381.3,510.7 L378.2,514.1 L374.9,517.3 L371.1,519.9 M369.8,575.4 L366.8,571.7 L362.5,569.5 L358.6,566.8 L355.6,563.1 M369.8,575.4 L372.8,571.9 L374.2,567.4 L376.9,563.7 L379.5,559.9 M379.5,559.9 L378.1,556.1 L376.4,552.4 L374.9,548.6 M355.6,563.1 L355.4,557.7 L356.2,552.4 M356.2,552.4 L360.4,548.4 L365.2,545.2 M365.2,545.2 L370.1,546.9 L374.9,548.6 M370.3,578.1 L369.8,575.4 M342.8,569.6 L346.7,566.8 L351.7,566.0 L355.6,563.1 M392.2,561.0 L388.0,561.1 L383.7,561.0 L379.5,559.9 M388.6,538.1 L385.6,541.3 L382.1,543.9 L377.8,545.3 L374.9,548.6 M362.4,524.9 L365.3,520.4 M362.4,524.9 L363.1,528.9 L363.0,533.1 L363.5,537.2 L365.5,541.0 L365.2,545.2 M371.1,519.9 L365.3,520.4 M454.3,523.3 L452.3,519.6 L450.6,515.8 L447.4,512.8 L445.7,509.0 M435.3,525.9 L436.9,522.0 L436.7,517.8 L437.3,513.7 M445.7,509.0 L441.5,511.3 L437.3,513.7 M413.6,524.4 L417.2,521.1 L418.7,516.3 L422.8,513.3 L424.9,508.9 M437.3,513.7 L433.0,512.6 L429.1,510.4 L424.9,508.9 M266.4,503.6 L270.3,502.7 M286.6,520.5 L283.9,516.8 L282.5,512.4 L280.9,508.2 M270.3,502.7 L275.8,505.0 L280.9,508.2 M271.9,475.3 L275.3,478.8 M270.3,502.7 L271.7,498.8 L272.9,494.9 L272.1,490.6 L272.8,486.6 L274.8,482.9 L275.3,478.8 M243.3,387.6 L247.0,390.4 L251.1,392.3 L255.3,394.0 L259.7,395.3 M247.3,416.5 L251.1,414.1 L254.4,411.0 L257.2,407.3 L261.4,405.2 M261.4,405.2 L261.4,400.1 L259.7,395.3 M265.6,376.9 L268.0,381.8 L270.6,386.5 M259.7,395.3 L263.3,392.3 L266.4,388.7 L270.6,386.5 M280.2,385.1 L274.5,387.7 M270.6,386.5 L274.5,387.7 M270.7,431.0 L271.1,430.5 M261.4,405.2 L266.8,406.6 L271.8,409.1 M271.1,430.5 L270.9,426.2 L272.3,422.0 L271.8,417.7 L272.1,413.4 L271.8,409.1 M299.9,437.6 L295.5,440.6 L290.7,442.8 L286.4,446.0 M299.9,437.6 L297.2,434.0 L295.2,430.2 L293.4,426.1 L291.2,422.3 M271.1,430.5 L274.8,428.3 L279.4,427.9 L282.9,425.1 L287.1,423.9 L291.2,422.3 M274.5,387.7 L274.8,392.2 L277.1,396.2 L277.9,400.6 L279.3,404.8 M279.3,404.8 L275.4,406.6 L271.8,409.1 M368.4,428.6 L372.9,427.4 L377.3,426.1 L381.9,425.6 L386.4,424.6 M386.4,424.6 L387.0,424.1 M389.9,406.5 L385.8,404.2 L381.2,403.0 L377.0,401.0 M389.9,406.5 L391.5,409.8 M363.9,426.3 L368.4,428.6 M377.0,401.0 L372.9,402.6 L369.3,405.3 L365.1,406.7 M391.5,409.8 L390.2,414.6 L387.6,419.1 L387.0,424.1 M377.0,401.0 L375.3,397.0 L376.2,392.6 L374.5,388.6 M374.5,388.6 L368.9,388.9 L363.5,387.5 M355.1,399.2 L355.8,395.6 M363.5,387.5 L359.2,391.1 L355.8,395.6 M357.6,453.7 L355.9,457.7 L353.4,461.4 L351.8,465.4 M357.6,453.7 L362.2,452.2 L366.9,451.1 L371.8,450.8 M376.8,466.0 L373.6,468.7 L370.0,470.7 L366.0,472.0 L362.7,474.5 L358.6,475.7 M376.8,466.0 L375.6,461.7 L375.9,457.1 L374.4,452.8 M358.6,475.7 L356.7,472.0 L353.9,468.9 L351.8,465.4 M374.4,452.8 L371.8,450.8 M344.3,438.4 L347.7,440.8 L350.3,443.9 L351.5,448.2 L355.0,450.6 L357.6,453.7 M332.6,455.7 L335.3,459.9 L338.4,463.8 M338.4,463.8 L342.8,464.8 L347.3,465.1 L351.8,465.4 M368.4,428.6 L368.6,433.1 L369.6,437.5 L370.5,441.9 L371.2,446.3 L371.8,450.8 M386.4,424.6 L386.5,429.2 L387.2,433.6 L389.2,437.9 L390.4,442.2 L390.6,446.8 M390.6,446.8 L386.3,447.5 L382.6,450.2 L378.3,450.9 L374.4,452.8 M457.7,399.1 L456.2,395.1 L455.9,390.7 L454.3,386.7 L452.8,382.7 L452.7,378.3 M462.5,400.0 L457.7,399.1 M467.4,378.8 L464.8,375.8 M452.7,378.3 L456.5,376.5 L460.7,376.3 L464.8,375.8 M389.8,318.2 L386.3,321.7 L382.8,325.2 L379.2,328.6 M394.4,333.4 L397.5,328.3 L400.7,323.5 M394.4,333.4 L388.9,333.6 L383.4,333.9 M383.4,333.9 L379.2,328.6 M376.3,313.1 L378.0,318.2 L377.9,323.5 L379.1,328.6 M360.2,319.6 L364.2,322.3 L368.8,324.0 L373.0,326.4 L377.3,328.7 M377.3,328.7 L379.1,328.6 M302.4,332.3 L297.0,330.1 L292.4,326.5 M291.2,321.7 L292.4,326.5 M302.4,332.3 L307.1,331.0 M295.1,313.5 L299.8,313.9 L304.1,315.5 L308.4,317.2 M308.4,317.2 L311.8,321.6 M307.1,331.0 L309.3,326.2 L311.8,321.6 M315.1,341.5 L311.8,338.5 L309.5,334.7 L307.1,331.0 M302.4,332.3 L300.0,337.4 L297.4,342.3 M297.4,342.3 L300.3,345.7 L303.0,349.2 L306.3,352.2 M315.1,341.5 L311.9,346.5 L308.7,351.5 M308.7,351.5 L306.3,352.2 M289.3,359.3 L293.0,357.2 L297.1,356.0 L301.2,354.8 L305.3,353.5 M290.6,368.8 L295.6,368.8 L300.5,368.5 L305.5,368.6 M305.5,368.6 L305.2,363.5 L306.1,358.5 L305.3,353.5 M306.2,393.6 L311.5,393.1 L316.7,392.0 M306.2,393.6 L303.4,388.3 L299.2,384.0 M316.7,392.0 L315.9,386.2 L316.5,380.4 M299.2,384.0 L303.1,380.8 L306.4,377.1 L310.1,373.7 M316.5,380.4 L313.0,377.3 L310.1,373.7 M305.5,368.6 L310.0,372.8 M310.1,373.7 L310.0,372.8 M305.3,353.5 L306.3,352.2 M308.7,351.5 L313.4,353.7 L316.6,358.0 L321.2,360.2 M310.0,372.8 L313.2,368.7 L318.1,366.4 L321.5,362.5 M321.2,360.2 L321.5,362.5 M383.4,333.9 L383.0,339.4 L382.0,344.8 M364.5,337.9 L369.2,335.4 L372.5,331.0 L377.3,328.7 M364.5,337.9 L366.6,343.9 M366.6,343.9 L370.7,344.4 L374.3,346.4 L378.0,347.9 M382.0,344.8 L378.0,347.9 M405.9,360.6 L404.5,356.5 L403.0,352.4 L401.1,348.5 M405.9,360.6 L410.2,359.8 L414.5,360.2 L418.8,359.6 M422.2,351.2 L420.7,355.5 L418.8,359.6 M422.2,351.2 L418.0,349.8 L414.1,347.9 L410.3,345.7 L406.6,343.2 M401.1,348.5 L403.7,344.3 M403.7,344.3 L406.6,343.2 M401.6,368.6 L403.4,373.0 L406.5,376.6 M420.2,374.0 L415.8,375.3 L411.1,375.7 L406.5,376.6 M401.6,368.6 L403.1,364.2 L405.9,360.6 M420.2,374.0 L422.2,368.9 M422.2,368.9 L421.4,363.9 L418.8,359.6 M392.9,351.0 L389.7,348.3 L385.3,347.4 L382.0,344.8 M394.4,333.4 L398.0,336.6 L400.1,341.1 L403.7,344.3 M392.9,351.0 L396.9,349.4 L401.1,348.5 M413.2,331.8 L411.7,336.0 L408.7,339.3 L406.6,343.2 M204.6,613.3 L210.8,608.5 M204.6,613.3 L200.0,611.7 L195.7,609.5 L191.8,606.5 M210.8,608.5 L212.4,604.7 L214.3,601.0 L214.1,596.6 L216.7,593.1 L217.3,589.0 M191.8,606.5 L190.5,602.1 L189.4,597.7 L186.9,593.9 L185.7,589.5 M217.3,589.0 L214.3,586.0 L211.7,582.5 L208.4,579.8 L205.9,576.3 M185.7,589.5 L186.7,584.9 L188.4,580.4 M205.9,576.3 L200.7,576.5 L195.5,575.3 M188.4,580.4 L192.3,578.4 L195.5,575.3 M227.3,637.7 L229.2,634.2 L230.6,630.4 L233.9,627.6 L234.7,623.4 L236.4,619.7 L239.1,616.6 M237.2,612.1 L232.8,611.5 L228.4,610.6 L224.0,610.2 L219.7,609.4 L215.2,609.3 L210.8,608.5 M168.9,619.8 L173.1,618.1 L176.7,615.5 L180.1,612.6 L184.6,611.6 L187.5,608.0 L191.8,606.5 M231.0,586.8 L226.5,587.8 L221.9,588.0 L217.3,589.0 M161.0,595.6 L165.3,595.5 L169.2,593.3 L173.2,592.0 L177.5,591.8 L181.7,591.1 L185.7,589.5 M219.4,561.4 L217.0,564.7 L214.0,567.3 L211.0,570.0 L208.5,573.2 L205.9,576.3 M165.4,566.9 L168.8,569.8 L173.3,570.9 L176.5,574.3 L181.1,575.2 L184.7,577.9 L188.4,580.4 M192.6,554.2 L192.4,558.5 L193.7,562.6 L193.5,567.0 L194.7,571.1 L195.5,575.3 M258.6,694.1 L256.8,690.4 L253.5,687.6 L251.6,684.0 L249.2,680.6 L246.6,677.5 L244.6,673.9 M236.5,676.1 L242.4,673.4 M244.6,673.9 L242.4,673.4 M227.5,641.0 L232.7,643.6 L237.8,646.4 M242.4,673.4 L242.0,668.9 L241.7,664.3 L240.2,659.9 L238.5,655.5 L238.3,650.9 L237.8,646.4 M255.9,622.5 L255.4,626.6 L254.7,630.6 L253.5,634.5 L252.9,638.6 L251.7,642.5 M237.8,646.4 L242.6,645.6 L247.0,643.7 L251.7,642.5 M286.2,632.9 L289.8,635.5 L294.3,636.4 L297.6,639.5 L301.9,640.6 M286.2,632.9 L281.5,633.8 M281.5,633.8 L279.4,637.9 L275.9,641.1 L274.1,645.5 L271.3,649.1 L268.2,652.5 M301.9,640.6 L300.7,644.7 L300.6,648.9 L300.3,653.1 L300.3,657.4 L298.8,661.4 M298.8,661.4 L294.5,664.0 L290.9,667.5 L287.2,670.9 M287.2,670.9 L280.6,670.7 M280.6,670.7 L276.3,668.3 L272.9,664.7 L269.4,661.3 M269.4,661.3 L268.8,656.9 L268.2,652.5 M293.7,605.0 L293.5,609.3 L292.3,613.2 L290.2,616.9 L288.7,620.8 L288.7,625.0 L288.2,629.2 L286.2,632.9 M303.8,639.8 L301.9,640.6 M263.8,619.2 L267.4,622.1 L270.5,625.4 L274.1,628.4 L277.6,631.3 L281.5,633.8 M251.7,642.5 L255.5,645.5 L259.7,647.9 L264.5,649.3 L268.2,652.5 M318.0,669.0 L314.3,667.2 L310.7,665.1 L306.5,664.5 L302.5,663.4 L298.8,661.4 M300.3,690.5 L298.3,686.1 L295.5,682.3 L292.5,678.7 L289.0,675.3 L287.2,670.9 M269.5,693.4 L271.2,689.6 L273.0,685.8 L275.5,682.3 L277.7,678.7 L278.7,674.5 L280.6,670.7 M244.6,673.9 L248.7,671.7 L252.9,669.8 L257.1,667.7 L261.3,665.8 L265.0,662.9 L269.4,661.3 M283.0,352.6 L285.5,347.7 L288.4,343.0 M283.0,352.6 L279.6,350.0 L275.7,348.4 L272.0,346.5 M288.4,343.0 L285.5,335.8 M272.0,346.5 L271.7,342.1 L271.7,337.8 M271.7,337.8 L274.8,335.0 L278.6,333.2 M278.6,333.2 L285.5,335.8 M283.1,353.4 L283.0,352.6 M297.4,342.3 L292.9,343.3 L288.4,343.0 M262.1,350.9 L266.7,347.9 L272.0,346.5 M292.4,326.5 L288.3,330.7 L285.5,335.8 M262.4,332.3 L267.0,335.2 L271.7,337.8 M276.2,321.7 L277.0,327.5 L278.6,333.2 M311.8,305.9 L316.1,305.8 L320.3,304.9 M311.8,305.9 L308.4,301.0 L304.6,296.4 M304.6,296.4 L308.2,294.2 L312.2,293.3 L316.0,291.6 L319.9,290.5 M320.3,304.9 L323.5,298.6 M323.5,298.6 L320.8,295.0 L319.9,290.5 M325.1,314.7 L322.8,309.8 L320.3,304.9 M325.1,314.7 L321.8,317.5 L319.7,321.5 M308.4,317.2 L311.0,311.8 L311.8,305.9 M319.7,321.5 L311.8,321.6 M301.5,295.5 L304.6,296.4 M322.4,283.0 L319.9,290.5 M333.9,300.4 L328.6,300.3 L323.5,298.6 M333.7,313.1 L329.3,313.3 L325.1,314.7 M622.1,325.6 L625.6,322.9 L629.6,321.4 L633.5,319.6 L637.7,318.5 M623.9,301.7 L628.0,303.6 L632.1,305.5 L635.4,308.6 M635.4,308.6 L637.1,313.4 L637.7,318.5 M640.3,340.7 L639.9,335.7 L641.7,331.0 L642.5,326.2 L642.3,321.3 M637.7,318.5 L642.3,321.3 M658.2,327.3 L654.3,325.0 L650.0,323.6 L646.6,320.6 M646.6,320.6 L642.3,321.3 M564.8,374.5 L569.8,373.0 L575.1,372.5 M575.1,372.5 L576.6,376.5 L576.5,380.8 M553.5,350.5 L556.3,347.0 L557.3,342.7 L559.3,338.7 M553.6,350.8 L557.7,352.5 L561.0,355.4 L564.8,357.5 M561.0,338.1 L564.5,340.3 L567.3,343.3 L570.6,345.6 L573.8,348.2 M573.8,348.2 L570.4,352.4 L567.4,356.9 M567.4,356.9 L564.8,357.5 M548.8,357.6 L551.7,354.6 L553.6,350.8 M558.6,369.2 L560.7,365.3 L562.1,361.1 L564.8,357.5 M577.7,346.9 L573.8,348.2 M575.1,372.5 L577.8,368.8 M577.8,368.8 L574.3,364.9 L571.0,360.8 L567.4,356.9 M531.4,314.3 L528.0,317.2 L524.0,319.1 M524.0,319.1 L524.2,325.1 L525.8,330.9 M525.8,330.9 L528.7,332.5 M532.5,330.9 L528.7,332.5 M553.5,350.5 L549.9,348.1 L545.5,346.9 L542.1,344.1 M544.2,336.8 L542.1,344.1 M506.6,401.8 L510.8,403.0 L515.0,403.6 L519.3,404.0 L523.6,404.5 M506.6,401.8 L505.4,402.5 M505.4,402.5 L504.7,408.2 L504.0,413.8 M524.7,406.6 L521.6,410.2 L519.1,414.2 L516.2,417.8 L512.4,420.8 M504.0,413.8 L507.0,417.7 L510.9,420.7 M512.4,420.8 L510.9,420.7 M515.1,384.7 L513.6,384.5 M510.2,386.2 L509.2,391.4 L507.7,396.5 L506.6,401.8 M497.0,399.6 L501.1,401.3 L505.4,402.5 M494.5,415.6 L499.4,415.5 L504.0,413.8 M523.0,431.0 L519.7,427.3 L515.9,424.3 L512.4,420.8 M501.0,432.3 L504.3,428.5 L507.2,424.2 L510.9,420.7 M331.6,553.8 L335.9,551.9 L339.5,548.9 L343.2,546.1 M331.6,553.8 L327.7,551.4 L325.3,547.4 L322.3,544.1 L318.4,541.8 M318.4,541.8 L322.1,539.2 L324.8,535.6 L327.9,532.4 L331.5,529.7 L333.9,525.8 M343.2,546.1 L343.4,540.9 L342.2,535.7 L342.0,530.4 M342.0,530.4 L338.3,527.4 L333.9,525.8 M356.2,552.4 L352.3,549.5 L347.5,548.3 L343.2,546.1 M331.2,561.6 L331.6,553.8 M311.9,541.9 L318.4,541.8 M305.8,519.1 L306.3,518.5 M330.7,516.8 L326.6,517.3 L322.5,517.3 L318.5,518.3 L314.4,517.3 L310.4,518.8 L306.3,518.5 M330.7,516.8 L331.8,521.4 L333.9,525.8 M362.4,524.9 L358.4,526.2 L354.4,527.5 L350.0,527.5 L345.9,528.4 L342.0,530.4 M445.7,509.0 L446.4,507.5 M466.7,517.1 L465.6,512.6 L466.0,507.8 L464.3,503.5 M446.4,507.5 L450.7,505.9 L455.3,505.3 L459.8,504.2 L464.3,503.5 M466.0,478.5 L462.4,480.9 L459.1,483.6 M481.3,499.9 L477.2,500.8 L473.2,501.7 L469.0,501.5 L465.0,502.5 M465.0,502.5 L463.5,497.8 L462.4,492.9 L460.7,488.3 L459.1,483.6 M465.0,502.5 L464.3,503.5 M280.9,508.2 L283.9,505.1 L287.2,502.3 L290.9,499.8 L293.9,496.7 L296.6,493.2 L300.0,490.4 M275.3,478.8 L280.0,479.1 L284.9,478.5 L289.6,479.7 M300.0,490.4 L297.1,486.3 L293.7,482.7 L289.6,479.7 M306.3,518.5 L307.1,514.1 L307.7,509.7 L306.6,505.1 L307.2,500.7 L307.1,496.3 L308.1,491.9 M300.0,490.4 L304.2,490.3 L308.1,491.9 M311.4,441.9 L309.7,446.0 L307.5,449.8 L305.2,453.6 L303.1,457.5 L301.9,461.8 M326.8,455.5 L324.0,459.5 L320.0,462.5 L316.8,466.1 L314.3,470.4 M314.3,470.4 L310.3,467.3 L306.4,464.2 L301.9,461.8 M285.4,453.8 L288.7,457.5 L293.2,459.8 L297.1,462.8 M289.6,479.7 L290.7,475.2 L292.8,471.0 L295.4,467.1 L297.1,462.8 M310.9,440.1 L305.5,438.5 L299.9,437.6 M301.9,461.8 L297.1,462.8 M292.0,420.1 L289.7,416.6 L287.4,413.0 L286.1,408.9 L283.5,405.6 M292.0,420.1 L296.8,418.1 L301.6,416.0 L305.9,413.0 M305.9,413.0 L304.7,409.0 L303.3,405.0 L301.6,401.1 M301.6,401.1 L296.2,400.6 L290.9,400.0 M290.9,400.0 L287.3,403.0 L283.5,405.6 M291.2,422.3 L292.0,420.1 M279.3,404.8 L283.5,405.6 M311.6,415.0 L305.9,413.0 M324.3,397.5 L320.6,394.6 L316.7,392.0 M306.2,393.6 L303.7,397.3 L301.6,401.1 M289.9,389.5 L290.9,394.7 L290.9,400.0 M396.0,389.1 L403.3,386.2 M403.3,386.2 L407.2,388.9 L411.2,391.5 L414.2,395.3 L418.1,398.0 M389.9,406.5 L390.7,401.9 L392.9,397.8 L395.4,393.8 L396.0,389.1 M391.5,409.8 L396.5,410.7 L401.5,410.4 L406.5,410.0 M406.5,410.0 L409.9,407.5 L412.6,404.3 L415.9,401.6 L418.1,398.0 M440.8,395.9 L440.0,391.2 L440.7,386.4 L440.2,381.7 M440.2,381.7 L435.3,382.1 L430.3,382.5 L425.4,382.5 M425.4,382.5 L423.0,386.0 L421.9,389.9 L421.4,394.1 L419.6,397.8 M440.8,395.9 L435.9,396.5 L431.0,397.0 L426.1,398.0 L421.3,398.9 M421.3,398.9 L419.6,397.8 M425.4,382.5 L422.6,378.4 L420.2,374.0 M406.5,376.6 L405.7,381.7 L403.3,386.2 M418.1,398.0 L419.6,397.8 M407.0,432.1 L412.0,429.8 L416.6,426.7 M407.0,432.1 L405.4,437.2 L404.9,442.5 L403.6,447.6 M413.4,452.2 L408.1,450.7 L403.6,447.6 M413.4,452.2 L416.0,448.9 L420.0,447.3 L423.1,444.7 L426.0,441.8 M426.0,441.8 L425.8,436.9 L423.9,432.5 L423.2,427.7 M423.2,427.7 L416.6,426.7 M387.0,424.1 L390.9,425.9 L394.8,427.6 L398.8,429.4 L402.6,431.4 L407.0,432.1 M406.5,410.0 L409.3,414.1 L411.4,418.5 L413.4,422.9 L416.6,426.7 M397.6,449.8 L403.6,447.6 M397.6,449.8 L390.6,446.8 M416.9,463.0 L413.3,465.8 L410.8,469.6 M416.9,463.0 L414.6,457.8 L413.4,452.2 M397.6,449.8 L397.6,454.0 L396.9,458.1 L396.6,462.3 L396.2,466.5 L395.2,470.5 M410.8,469.6 L405.6,469.1 L400.4,470.0 L395.2,470.5 M439.2,451.0 L435.9,454.1 L433.3,457.9 L431.1,462.0 L427.5,464.9 M439.2,451.0 L435.9,448.7 L432.3,446.8 L429.1,444.4 L426.0,441.8 M416.9,463.0 L422.1,464.5 L427.5,464.9 M386.1,472.9 L384.3,477.4 L382.1,481.8 L380.7,486.6 L378.3,490.8 M386.1,472.9 L393.3,472.1 M393.3,472.1 L396.1,475.6 L397.6,479.8 L399.7,483.6 L400.1,488.3 L402.0,492.3 L404.6,495.9 M382.0,495.0 L378.3,490.8 M382.0,495.0 L386.5,495.2 L390.9,496.1 L395.5,495.2 L399.9,496.5 L404.4,496.0 M395.2,470.5 L393.3,472.1 M376.8,466.0 L381.8,469.1 L386.1,472.9 M410.8,469.6 L412.5,474.4 L414.7,478.9 L416.1,483.7 M409.2,494.6 L404.6,495.9 M416.1,483.7 L414.1,487.6 L411.3,490.9 L409.2,494.6 M381.3,510.7 L381.1,505.5 L382.1,500.2 L382.0,495.0 M400.8,513.4 L402.7,509.3 L403.4,504.9 L402.8,500.2 L404.4,496.0 M424.9,508.9 L423.2,502.1 M423.2,502.1 L418.1,500.4 L413.9,497.1 L409.2,494.6 M378.3,490.8 L373.1,490.2 L367.9,491.1 M365.3,520.4 L363.5,516.2 L361.6,512.1 L358.9,508.5 M358.9,508.5 L361.4,504.3 L363.2,499.7 L365.4,495.3 L367.9,491.1 M358.6,475.7 L358.1,479.7 M367.9,491.1 L364.9,487.0 L361.8,483.2 L358.1,479.7 M449.2,346.4 L449.6,347.3 M460.3,352.5 L455.2,349.3 L449.6,347.3 M449.2,346.4 L450.7,341.8 L453.3,337.6 M460.3,352.5 L464.2,350.6 M464.2,350.6 L464.2,345.9 L464.9,341.2 M524.0,319.1 L519.9,318.5 L516.3,316.7 L512.8,314.7 M444.1,377.2 L447.5,376.4 M444.1,377.2 L440.9,373.8 L438.4,369.7 L434.9,366.5 M447.5,376.4 L449.4,372.3 L450.1,367.9 L450.6,363.5 M450.6,363.5 L445.5,357.3 M445.5,357.3 L441.1,357.7 L436.7,358.6 M434.9,366.5 L435.9,362.6 L436.7,358.6 M440.8,395.9 L444.5,398.8 L447.3,402.6 M457.7,399.1 L452.4,400.4 L447.3,402.6 M440.2,381.7 L444.1,377.2 M452.7,378.3 L447.5,376.4 M422.2,368.9 L426.4,367.7 L430.7,367.6 L434.9,366.5 M458.4,360.4 L461.2,363.3 L464.1,366.1 L466.9,369.0 M458.4,360.4 L454.3,361.5 L450.6,363.5 M464.8,375.8 L466.9,369.0 M449.6,347.3 L448.2,352.6 L445.5,357.3 M460.3,352.5 L459.4,356.4 L458.4,360.4 M359.6,319.7 L356.3,323.0 M339.6,316.6 L341.5,320.9 M341.5,320.9 L348.1,324.7 M356.3,323.0 L352.4,324.6 L348.1,324.7 M364.5,337.9 L361.9,336.8 M356.3,323.0 L358.3,327.5 L360.0,332.2 L361.9,336.8 M366.6,343.9 L363.8,347.0 L362.4,351.0 L359.6,354.1 M364.8,361.8 L362.2,360.6 M364.8,361.8 L370.1,360.8 L375.3,359.2 M375.3,359.2 L377.3,353.7 L378.0,347.9 M362.2,360.6 L359.6,354.1 M348.8,376.0 L346.9,382.1 M348.8,376.0 L346.6,370.1 M346.9,382.1 L343.0,385.3 L338.9,388.1 L334.1,390.1 M346.6,370.1 L341.7,367.1 M341.7,367.1 L336.3,368.6 L331.1,370.8 M334.1,390.1 L331.9,385.5 L330.3,380.7 L329.4,375.6 M329.4,375.6 L331.1,370.8 M360.8,378.8 L362.6,383.1 L363.5,387.5 M360.8,378.8 L356.8,377.7 L352.8,376.9 L348.8,376.0 M355.8,395.6 L353.2,392.5 L350.6,389.4 L349.6,385.2 L346.9,382.1 M362.2,360.6 L358.5,363.3 L354.7,365.8 L350.4,367.6 L346.6,370.1 M366.5,373.1 L363.7,376.1 L360.8,378.8 M366.5,373.1 L364.8,367.6 L364.8,361.8 M332.6,394.3 L334.1,390.1 M316.5,380.4 L320.6,378.3 L325.4,378.0 L329.4,375.6 M321.5,362.5 L324.3,365.7 L328.4,367.5 L331.1,370.8 M389.4,362.1 L384.4,362.7 L379.3,362.5 M389.4,362.1 L394.4,367.8 M394.4,367.8 L391.6,372.3 L388.0,376.3 L384.8,380.6 M379.3,362.5 L378.5,366.5 L379.1,370.6 L380.0,374.7 L379.0,378.8 M384.8,380.6 L380.1,380.4 M379.0,378.8 L380.1,380.4 M375.3,359.2 L379.3,362.5 M392.9,351.0 L390.3,356.3 L389.4,362.1 M401.6,368.6 L394.4,367.8 M396.0,389.1 L391.8,386.8 L388.5,383.5 L384.8,380.6 M366.5,373.1 L370.5,375.4 L374.7,377.2 L379.0,378.8 M374.5,388.6 L377.0,384.3 L380.1,380.4 M438.8,343.5 L435.0,347.4 L431.5,351.4 M438.8,343.5 L438.0,339.6 L435.9,336.0 L435.7,331.8 M434.2,330.6 L429.1,331.8 L424.6,334.4 M424.6,334.4 L424.5,338.5 L424.1,342.5 L423.7,346.6 L423.4,350.6 M423.4,350.6 L427.4,351.6 L431.5,351.4 M449.2,346.4 L443.9,345.2 L438.8,343.5 M436.7,358.6 L434.8,354.5 L431.5,351.4 M415.6,330.8 L420.1,332.6 L424.6,334.4 M422.2,351.2 L423.4,350.6 M656.1,306.7 L658.2,302.4 L659.9,298.0 L661.1,293.3 M655.8,306.8 L651.7,305.8 L648.3,303.2 L644.5,301.6 M661.1,293.3 L660.6,291.8 M660.6,291.8 L656.4,291.2 L652.5,289.5 L648.6,288.0 L644.7,286.7 M642.8,287.2 L643.8,292.0 L643.0,296.9 L644.5,301.6 M661.8,310.1 L656.1,306.7 M646.6,320.6 L648.6,316.9 L650.9,313.5 L653.6,310.3 L655.8,306.8 M677.3,300.2 L673.1,299.0 L669.6,295.9 L665.5,294.2 L661.1,293.3 M635.4,308.6 L640.1,305.3 L644.5,301.6 M665.1,283.7 L662.3,287.4 L660.6,291.8 M585.2,362.2 L580.4,368.1 M585.2,362.2 L591.2,362.6 L597.1,363.4 M580.4,368.1 L583.9,370.9 L587.3,373.8 L589.9,377.6 L593.8,379.9 M593.8,379.9 L596.0,375.3 L596.2,370.0 L598.7,365.5 M597.1,363.4 L598.7,365.5 M577.8,368.8 L580.4,368.1 M584.0,348.9 L585.1,353.3 L584.9,357.8 L585.2,362.2 M599.3,352.1 L598.1,357.7 L597.1,363.4 M608.3,366.5 L603.5,366.1 L598.7,365.5 M538.5,345.6 L534.0,343.7 L529.7,341.2 M538.5,345.6 L536.9,353.2 M529.7,341.2 L524.5,346.4 M528.7,332.5 L530.1,336.8 L529.7,341.2 M542.1,344.1 L538.5,345.6 M525.8,330.9 L520.0,332.6 L514.1,333.2 M515.0,344.6 L518.7,348.9 M521.9,381.2 L524.5,377.4 L525.5,372.9 M506.3,357.7 L511.1,356.1 L515.6,353.9 M503.7,366.0 L504.8,361.8 L506.3,357.7 M509.6,369.2 L517.2,366.9 M434.3,493.0 L441.9,494.3 M434.3,493.0 L431.7,489.5 L429.1,486.0 L427.7,481.8 M441.9,494.3 L444.6,490.2 L448.9,487.5 L451.6,483.3 M427.7,481.8 L429.5,477.7 L431.7,473.8 M431.7,473.8 L436.2,474.3 L440.7,473.9 L445.2,474.8 M445.2,474.8 L448.0,479.4 L451.6,483.3 M423.2,502.1 L426.4,498.5 L430.3,495.7 L434.3,493.0 M446.4,507.5 L444.0,503.4 L442.5,499.0 L441.9,494.3 M416.1,483.7 L421.8,482.2 L427.7,481.8 M459.1,483.6 L451.6,483.3 M427.5,464.9 L429.4,469.4 L431.7,473.8 M449.8,456.2 L446.9,453.0 L443.2,450.7 M449.8,456.2 L449.2,461.0 L448.0,465.6 L447.0,470.3 L445.2,474.8 M439.2,451.0 L443.2,450.7 M465.2,457.7 L460.0,457.0 L455.0,455.7 L449.8,456.2 M316.3,479.7 L314.0,483.5 L312.8,487.8 L309.8,491.2 M316.3,479.7 L320.6,479.8 L324.7,478.5 L329.0,477.7 L333.3,478.3 M309.8,491.2 L313.0,493.6 L317.2,494.3 L320.7,496.4 L323.4,499.8 L327.0,501.5 L331.0,502.6 L334.4,504.8 M333.3,478.3 L336.4,481.7 L339.7,485.0 L342.2,488.9 M342.2,488.9 L341.2,493.0 L340.8,497.3 L339.8,501.4 M334.4,504.8 L339.8,501.4 M308.1,491.9 L309.8,491.2 M314.3,470.4 L316.0,474.9 L316.3,479.7 M338.4,463.8 L337.2,468.8 L334.4,473.2 L333.3,478.3 M330.7,516.8 L331.3,512.6 L332.5,508.6 L334.4,504.8 M358.1,479.7 L354.5,482.7 L349.9,483.9 L345.8,486.1 L342.2,488.9 M358.9,508.5 L355.1,507.0 L351.0,506.4 L347.2,504.7 L343.5,503.2 L339.8,501.4 M429.9,415.0 L428.4,420.5 L426.0,425.6 M429.9,415.0 L434.8,412.8 L439.8,411.0 L444.9,409.4 M426.0,425.6 L430.0,426.8 L434.3,426.6 L438.4,427.7 L442.1,429.8 L446.5,429.6 L450.4,431.1 M444.9,409.4 L447.1,413.9 L449.4,418.2 L451.7,422.5 L454.0,426.9 M450.4,431.1 L453.8,428.7 M454.0,426.9 L453.8,428.7 M421.3,398.9 L422.7,403.3 L425.9,406.7 L428.5,410.5 L429.9,415.0 M423.2,427.7 L426.0,425.6 M447.3,402.6 L444.9,409.4 M443.2,450.7 L443.9,446.5 L446.9,443.1 L447.6,438.9 L448.6,434.9 L450.4,431.1 M468.6,412.5 L465.8,415.5 L463.2,418.6 L459.6,420.9 L457.5,424.5 L454.0,426.9 M465.5,435.6 L461.7,433.1 L457.9,430.5 L453.8,428.7 M466.9,369.0 L473.2,364.4 M464.2,350.6 L469.5,352.7 M469.5,352.7 L471.2,356.5 L471.1,360.8 L473.2,364.4 M484.4,375.4 L483.5,370.1 L483.2,364.7 M473.2,364.4 L478.2,365.5 L483.2,364.7 M501.6,366.7 L496.7,365.0 L492.0,362.8 L487.3,360.8 M487.3,360.8 L483.2,364.7 M341.7,367.1 L341.9,361.1 L340.9,355.1 M359.6,354.1 L355.9,351.5 L351.7,349.6 M351.7,349.6 L348.5,352.2 L344.7,353.6 L340.9,355.1 M361.9,336.8 L356.7,339.3 L351.5,341.7 M351.7,349.6 L351.5,341.7 M348.1,324.7 L347.8,328.8 L346.9,332.8 L346.3,336.9 M351.5,341.7 L346.3,336.9 M487.4,358.5 L484.4,354.9 L483.2,350.4 L480.6,346.7 M487.4,358.5 L490.5,354.9 L494.5,352.0 L498.0,348.7 M480.6,346.7 L480.9,343.8 M469.5,352.7 L473.4,351.1 L476.6,348.1 L480.6,346.7 M487.3,360.8 L487.4,358.5 M506.3,357.7 L503.7,352.8 L500.5,348.2 M329.9,349.9 L334.7,349.8 M329.9,349.9 L327.3,346.5 L323.6,344.1 L321.1,340.5 M334.7,349.8 L336.8,344.7 L338.5,339.5 M338.5,339.5 L334.7,335.2 L330.7,331.1 M321.1,340.5 L324.7,336.3 L326.7,331.1 M326.7,331.1 L330.7,331.1 M321.2,360.2 L324.6,357.2 L326.8,353.2 L329.9,349.9 M340.9,355.1 L338.0,352.2 L334.7,349.8 M315.1,341.5 L321.1,340.5 M346.3,336.9 L342.4,338.4 L338.5,339.5 M341.5,320.9 L338.3,324.7 L334.6,328.1 L330.7,331.1 M319.7,321.5 L323.7,325.9 L326.7,331.1" fill="none" stroke="#fff" stroke-width="0.95" stroke-opacity="0.8" clip-path="url(#ind)"/><path d="M531.5,447.3 L532.9,452 534.9,455.4 537,460.2 536.3,465.6 537.6,471 532.9,473.7 524.1,475 517.3,473.7 512.6,471.7 513.3,467.6 515.3,465.6 519.4,465.6 524.1,462.9 526.8,457.5 529.5,453.4Z" fill="#858585" stroke="#858585" stroke-width="1.5"/><path d="M40,410.5 L47,409 52.5,412 51,418 46.2,423.6 41,422 39.5,416Z" fill="#858585"/><path d="M209.9,187.4 L217.1,184.3 L222.3,181.2 L222.3,172.9 L221.3,170.8 L227.5,167.7 L234.8,163.5 L240,162.5 L246.9,164.7 L257,170 L270,175 L282,175.7 L286.8,179.6 L291.4,178 M209.9,190.5 L216.8,193.1 L223,199.4 L229.2,213.4 L235.5,215 L240.1,221.2 L243.2,229 L246.4,232.1 L244.8,238.3 L238.6,246.1 L232.3,249.2 L229.2,255.5 L219.9,257 L210.5,258.6 L207.4,263.2 L204.3,255.5 L193.4,252.3 L185.6,253.1 L175,248.3 M246.4,232.1 L251,236.8 L265,240.4 L268,237.3 L268,228 L271.2,218.6 L280.5,217 L296,220 L293,213.9 M265,240.4 L266.5,248 L271.2,256 L280.5,257.5 L286.8,262.2 L294.5,267 L307,281 L322.2,284.4 M265,240.4 L257.3,246.1 L252.6,255.5 L251.8,267.9 L252.6,280.4 L255,283 L258.8,291.3 L262,302.5 L257.4,311.8 L257.4,318 L263.6,327.4 L266.8,332 L277.7,335.2 L287,336.8 L296.4,339.9 L299.5,347.7 L298,357 L293.2,364.8 L291.7,369.5 L285.5,371 L280.8,374.2 L279.2,383.5 L277.7,389.7 L279.2,399.1 L285.5,402.2 L294.8,403.8 L296.4,397.5 L293.2,392.9 L287,380.4 L291.7,374.2 L294.5,376.4 L303.6,378.2 L316.4,378.2 L323.6,374.5 L329.1,383.6 L340,381.8 L350.9,381.8 L358.2,381.8 L365.5,387.3 L378.2,394.5 L385.5,396.4 L385.5,409.1 L392.7,414.5 L400,409.1 L401.8,398.2 L400,385.5 L401.8,376.4 L413.1,370.1 L430,365 L426.1,359.7 L415.7,349.4 L423.5,341.6 L415.7,333.8 L413.1,322 M251.5,283 L256,282 L258.8,288 L257,294 L252,293 L250,288 L251.5,283 M188.7,253.9 L190.3,258.6 L191.8,269.5 L209,271 L212,277.3 L215.2,286.6 L220,294.7 L227.8,308.7 L232.5,302.5 L245,301 L248,313.4 L254.3,310.3 L260.5,305.6 L262,302.5 M266.8,332 L259,336.8 L254.3,349.2 L245,358.6 L237.1,364.8 L237.1,370 L241,375.2 L248.8,377.8 L256.6,373.9 L259.2,381.7 L247.5,384.3 L245,390.8 L250.1,396 L246.2,399.9 L246.2,407.7 L232,405 L229.4,403.8 L226.8,410.3 L219,416.8 L213.8,412.9 L219,409 L222.9,398.6 L221.6,392 L209.9,392 L209.9,384.3 L206,384.3 L204.7,386.9 L198.2,386.9 L196.9,396 L195.6,403.8 L200.8,409 L200.8,419.4 L191.7,429.7 L194.3,432.3 L186.5,436.2 L190.6,438 M110.6,394 L124,395 L139,396 L157,402 L160,411 L173.8,424.5 L187.3,431.3 L190.6,438 M190.6,438 L187,442 L180.6,450 L180.3,452.6 L181.6,464.3 L188,463 L194.5,470.8 L205,477.3 L218,478.6 L228.3,481.2 L230,484.3 L240,475.6 L260.8,470.4 L263.4,478.2 L279,475.6 L301.8,470.9 L323.6,472.7 L333,478 M181.6,464.3 L172.5,468.2 L173.8,472.1 L179,473.4 L185.5,474.7 L172.5,479.9 L168.6,483.8 L173.8,486.4 L175,492.9 L172.5,498 L167.3,495.5 L164.7,500.6 L162.1,507.1 L155.6,505.8 L150.4,504.5 M333,478 L336.4,472.7 L341.8,467.3 L347.3,456.4 L356.4,449.1 L363.6,443.6 L370.9,432.7 L370.9,425.5 L367.3,418.2 L358.2,416.4 L358.6,414.3 M358.6,414.3 L371,415 L382,415.6 L392.3,414.3 L400.1,409.1 M333,478 L333.5,486 L331,509.4 L338.7,527.5 L328.3,535.3 L325.7,545.7 L336.1,553.5 L343.9,566.5 L354.3,566.5 L359.5,564 M328.3,545.7 L320.5,543 L318,525 L297.1,522.3 L281.6,517.1 L279,525 L268.6,538 L261.8,552.7 M261.8,552.7 L263.6,576.4 L258.2,585.5 L260,601.8 L256.4,603.6 L261.8,609 L260,614.5 L250.9,616.4 L249,623.6 L250.9,631 L245.5,638.2 L247.3,649 L250.9,658.2 M356.9,569 L354.3,569 L343.9,579.5 L333.5,589.9 L323,595 L307.5,600.3 L289.4,608 L276.4,610.6 L260.8,613.2 M261.8,552.7 L256.4,554.5 L249,560 L238.2,571 L234.5,578.2 L216.4,578.2 L214.5,587.3 L203.6,591 L194.5,596.4 L185.5,600 L183.6,607.3 L187.3,612.7 L183.6,620 L176.4,621.8 L172.7,618.2 L170.8,619.9 M183.6,620 L185,626 L184.3,631.3 L183.2,638.6 L180.1,640.6 M356.9,569 L359.5,558.7 L367.3,551 L372.5,543 L369.9,525 L367.3,514.5 L375,517 L382.9,517 L377.7,499 L377.7,491.2 L388,483.4 L401,475.6 L406.2,460 L408,458.4 L415.7,450.6 L420.9,440.3 L415.7,429.9 L408,419.5 L400.1,409.1 M356.9,569 L369.9,556.1 L385.5,545.7 L401,538 L414,543 L427,538 L437.4,532.7 M418.3,450.6 L439,453.2 L444.3,461 L459.9,458.4 L470.3,450.6 L480.6,455.8 L491,468.8 L485.8,487 L483.2,497.4 L485.6,495.2 M402.7,397.4 L420.9,396.1 L433.9,401.3 L446.9,396.1 L459.9,390.9 L470.3,393.5 L480.6,398.7 L491,385.7 L498.8,380.5 L506.6,383.1 L509.2,375.3 L506.6,365 L509,357.5 L514.3,348.2 M491,385.7 L496.2,403.9 L485.8,414.3 L470.3,419.5 L459.9,427.3 L467.7,437.7 L480.6,448 L488.4,461 L491,468.8 M326,671.2 L320.9,675 L313.1,679 L305.3,681.6 L297.5,684.2 L289.7,685.5 L285.8,688 L282,692 M250.9,658.2 L259.9,655.6 L258.6,663.4 L261.2,666 L269,664.7 L275.5,668.6 L282,672.5 L284.5,679 L284.5,685.5 L282,692 L279.4,692 L269,694.5 L265,698.4 L262.5,705 L259.9,712.7 L250.8,715.3 L243,718 L233.9,720.5 L231.7,726.8 L241.2,734 L241.2,743.5 L246,753 L253.1,762.5 L255.5,774.3 L255.5,791 L257.8,802.8 M200.9,691.2 L212.7,698.3 L224.6,710.2 L233.9,720.5 M514.3,333.6 L521,334 L527,332 L532,330.5 M555.8,339.9 L556.9,342 L554.8,350.3 L552,353.2 M556.1,361.6 L578,361 L604.3,359.2 L612,365 L623.2,371.2 L625.7,377.4 L622,383.5 L617,384.8 L612.1,388.4 M607,334.8 L621.6,332.7 L642.3,326.5 L659,318.2 L675.6,312 L688,308.8 L700.5,306.7 L702.6,309.9 L698.4,320.3 L700.5,324.4 M702.2,321.6 L683.4,336.6 L675.9,351.7 L660.8,363 L645.7,370.5 L644.1,372.5 L640.4,377.4 L635.5,387.2 L631.8,397 L630.6,406.9 L629.3,402 L625.7,400.7 L619.5,406.9 L614.6,405.7 L612.2,404 M668.7,370 L655,373 L644.1,372.5 M630.6,408.1 L639.2,409.3" fill="none" stroke="#858585" stroke-width="1.7" stroke-linejoin="round"/>
<path d="M208,50.4 L215.7,56.9 L239,71 L241.7,82.9 L257,90.6 L265,94.5 L275.5,92 L285.8,85.5 L298.8,82.9 L306.6,81.6 L317,86.8 L323.5,88 L326,94.5 L322,110 L306.6,118 L296,131 L293.6,138.7 L296,144 L295.3,150 L296.1,154.7 L305.5,159.4 L307,168.7 L310.1,178 L305.5,181.2 L297.7,185.8 L293,181.2 L291.4,178 L283.6,182 L285.2,187.4 L288.3,192 L289.9,199.9 L291.4,207.7 L293,213.9 L297.7,212.3 L303.9,218.6 L313.2,224.8 L324.2,229.5 L332,237.3 L342.8,243.5 L336.6,252.9 L332,262.2 L328.8,270 L322.2,284.4 L334,289.5 L347.5,297.9 L361,308 L381.3,314.8 L398.2,321.5 L415,319.9 L428.5,325 L435.3,331.7 L455.6,338.4 L472.4,343.5 L489.4,344 L495.6,349.2 L509,346.6 L513.2,346.1 L515.8,344 L514.3,333.6 L511.7,329.5 L512.2,321.2 L513.2,309.7 L514.3,306.6 L525.7,302.5 L532,307.7 L531,319 L533,324.3 L531,327.4 L532,330.5 L538.2,335.7 L544.4,336.8 L550.6,339.9 L555.8,339.9 L568.6,335.6 L583.1,337.7 L592.5,336.9 L607,334.8 L609,328.6 L608,320.3 L600.8,317.1 L596.6,309.9 L605,308.8 L621.6,304.7 L625.7,299.5 L634,293.2 L640.3,288 L650.6,284.9 L659,278.7 L667.3,271.4 L677.7,274.5 L688,276.6 L694.3,272.5 L704.7,267.3 L708.8,272.5 L706.8,278.7 L715,280.8 L713,291.2 L717,295.3 L733.8,299.5 L734.8,305.7 L725.5,314 L723.4,320.3 L728.6,328.6 L723.4,326.5 L713,322.3 L700.5,324.4 L688,334.8 L681.8,343.1 L679.7,355.6 L671.4,368 L669.4,378.4 L671.2,382.3 L671.2,388.4 L666.2,398.3 L662.5,406.9 L657.6,415.5 L649,413 L641.6,410.6 L639.2,409.3 L640.4,416.7 L640.4,431.5 L638,436.4 L633.6,438.9 L633,450 L635.5,456.1 L628.1,465.9 L620.7,463.4 L619.5,456.1 L617,443.8 L615.8,435.2 L613.4,419.2 L606,421.6 L603.5,431.5 L597.4,437.6 L592.5,431.5 L587.3,417.7 L591.4,407.3 L601.8,403.1 L612.2,404 L612.1,388.4 L606,382.3 L590,379.8 L570.6,381.3 L556.1,378.2 L554,359.5 L552,353.2 L549.9,357.4 L543.6,358.4 L538.2,355.5 L534,348.2 L532,352.3 L526.8,348.2 L521.6,344 L515.3,354.4 L514.3,364.8 L527,374 L533.2,378.2 L529,382.3 L516.6,380.3 L512.5,392.7 L522.9,403.1 L527,411.4 L525,419.7 L528.8,425 L529.5,429 L535.6,431.8 L532.9,435.1 L533.6,442 L532.9,447.3 L534.9,455.4 L537,460.2 L536.3,465.6 L537.6,471 L532.9,473.7 L524.1,475 L517.3,473.7 L512.6,471.7 L513.3,467.6 L517,462 L515.5,456 L513,452 L515.3,458 L513.3,464.2 L508.5,468.3 L501.2,471.8 L491.8,479.6 L485.6,495.2 L482.5,504.5 L473.2,513.8 L454.5,523.2 L439,532.5 L430,539 L411.8,557 L396.2,570 L380.6,583 L375.5,591 L375.5,598.7 L359.9,603.9 L349.5,609 L341.7,619.5 L333.9,616.9 L326.1,624.7 L322.2,637.7 L323.8,640 L326,657 L328,674 L327,682.6 L323.8,695.3 L317.4,703.8 L315.3,714.5 L317.4,725 L315.3,735.7 L317.4,742 L317.4,750.6 L309,755 L302.6,761.3 L298.3,767.7 L296.2,774 L304.7,776.2 L306.8,779.4 L300.4,778.3 L291.9,778.3 L285.5,782.6 L279,791 L270.6,801.7 L264.3,806 L260.7,805 L253,801.2 L245,790.3 L239,771.6 L232.7,753 L223.4,734.3 L217,718.7 L207.8,703 L200,684.5 L195.4,669 L190,658 L185.3,650 L180.1,641.7 L176,634.4 L171.8,625.1 L165.6,613.6 L161.4,600.1 L160.4,588.7 L157.8,578.3 L156.8,570 L153.3,560 L149.5,541 L146.9,525.5 L146.9,510 L148,491.7 L144.3,478.7 L144.3,458 L141.7,456.6 L139,460.5 L136.5,473.5 L131.3,484 L115.7,490.4 L102.7,495.6 L89.7,489 L76.8,476 L63.8,463 L58.7,460 L57.7,454.8 L59.7,450.6 L66,454.8 L73.2,452.7 L83.6,448.6 L88.8,444.4 L94,435 L92,437.1 L84.7,440.3 L74.3,443.4 L55.6,436.1 L48.3,432 L46.2,423.6 L41,422 L39.5,416 L42,411 L46.2,411.2 L52.5,412.2 L53.5,403.9 L55.6,404.9 L73.2,404.4 L76.4,407 L83.6,407 L85.7,403.9 L96.1,400.8 L97.1,404.9 L103.4,403.9 L107.5,400.8 L107.5,395.6 L110.6,394 L106.5,385.2 L101.8,380 L98.2,370.9 L92.7,367.3 L85.5,360 L85.5,345.5 L76.4,343.6 L70.9,338.2 L70.9,330.9 L81.8,316.4 L90.9,305.5 L96.4,305.5 L100,309.1 L103.6,312.7 L120,309.1 L129,303.6 L134.5,294.5 L140,285.5 L150.9,280 L158.2,272.7 L161.8,256.4 L167.3,250.9 L176.4,249.1 L175,240.5 L181.6,235.3 L187,226.9 L193.2,221.7 L190.1,218.6 L191.2,210.3 L190.1,203 L194.3,197.8 L199.5,194.7 L205.7,192.6 L209.9,190.5 L209.9,187.4 L201.6,183.2 L193.2,180.1 L193.2,172.9 L191.2,174.9 L178.7,169.7 L168.3,166.1 L166.8,158.3 L167.7,144 L163.8,131 L165,123 L171.6,115.3 L178,112.7 L175.5,106.2 L171.6,102.3 L172.9,95.8 L169,90.6 L145.6,85.5 L141.7,80 L143,73.8 L147,70 L156,62 L170,55.6 L174,58 L189.7,54.3 L200,51.7Z" fill="none" stroke="#858585" stroke-width="2" stroke-linejoin="round"/>
<g fill="#e8d6cb" stroke="#858585" stroke-width="1.5">
<path d="M628,670 L633,668 633.5,680 632,690 631,700 629,708 626,716 623,725 621,727 619,722 620,712 622,700 623,690 624.5,680 626,674Z"/>
<path d="M617,738 L621,737.6 622,743 620,747 616,746 615,741Z"/>
</g>
<g fill="#858585">
<path d="M628,704 L633,703 634,709 632,715 629,712Z"/><path d="M621.5,688 L625,686 625.5,692 622,694Z"/><path d="M619.5,716 L623,714 623,724 620,726Z"/>
<circle cx="645" cy="641" r="1"/><circle cx="650.6" cy="703.6" r="1.2"/><circle cx="612.6" cy="721.7" r="1.2"/><circle cx="625.2" cy="778.7" r="1.5"/><circle cx="634" cy="800.5" r="1.6"/><circle cx="640" cy="806" r="2.2"/><circle cx="645" cy="795.3" r="1"/><circle cx="638" cy="809" r="1.5"/>
<circle cx="145" cy="745.2" r="1.2"/><circle cx="169.4" cy="740" r="1.2"/><circle cx="155" cy="800.1" r="1.2"/>
</g>
</svg>
<div class="t">DNA H (Tamil) Vellalan density interactive map</div>
</body></html>
